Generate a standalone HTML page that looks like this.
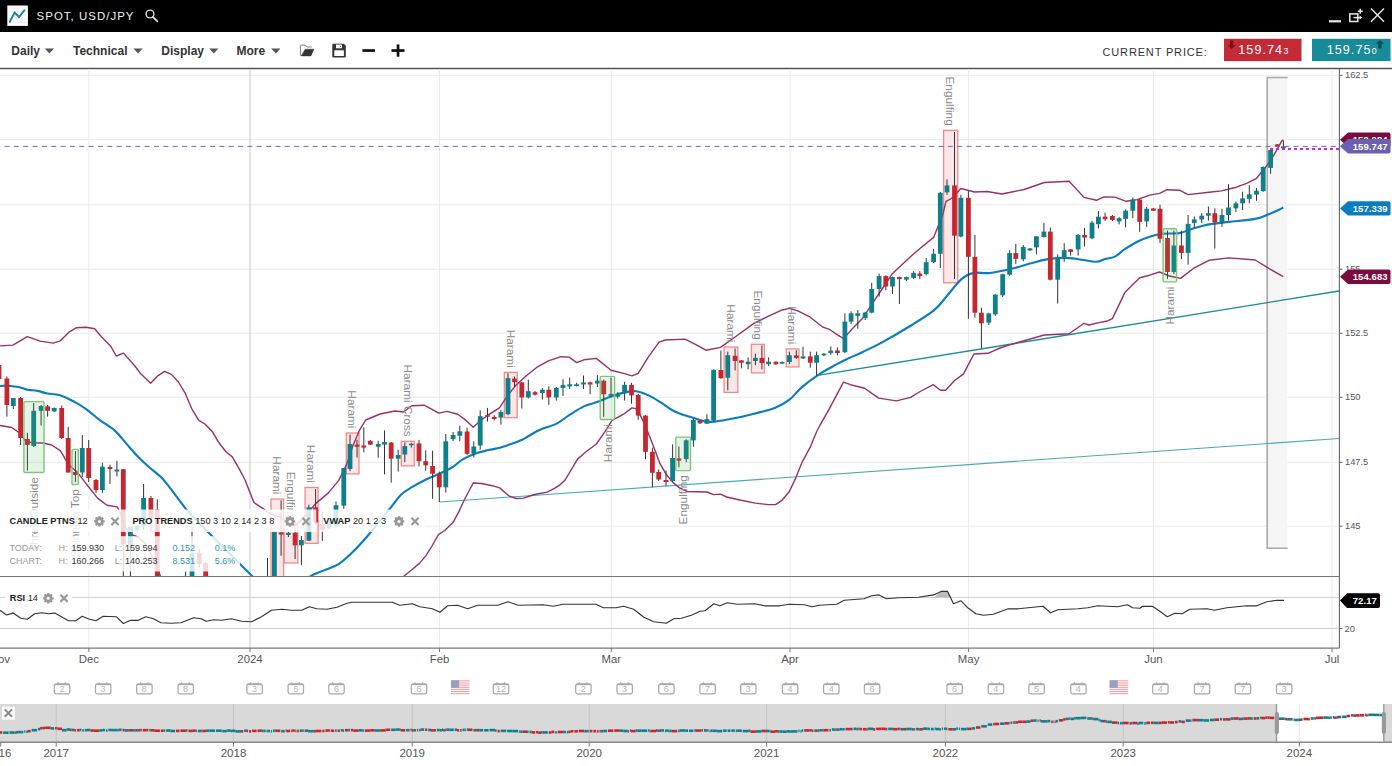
<!DOCTYPE html>
<html><head><meta charset="utf-8"><title>SPOT, USD/JPY</title>
<style>
html,body{margin:0;padding:0;background:#fff;}
body{width:1392px;height:766px;overflow:hidden;position:relative;font-family:"Liberation Sans",sans-serif;}
svg{position:absolute;left:0;top:0;}
text{font-family:"Liberation Sans",sans-serif;}
</style></head><body>
<svg width="1392" height="766" viewBox="0 0 1392 766">
<defs>
<clipPath id="cm"><rect x="0" y="69" width="1339" height="507"/></clipPath>
<clipPath id="cr"><rect x="0" y="577" width="1339" height="71"/></clipPath>
</defs>

<rect x="0" y="0" width="1392" height="32" fill="#000"/>
<rect x="7.3" y="5.5" width="20.6" height="20.4" fill="#fff"/>
<line x1="9" y1="8.0" x2="26" y2="8.0" stroke="#e4e4e4" stroke-width="0.8"/>
<line x1="9" y1="11.3" x2="26" y2="11.3" stroke="#e4e4e4" stroke-width="0.8"/>
<line x1="9" y1="15.0" x2="26" y2="15.0" stroke="#e4e4e4" stroke-width="0.8"/>
<line x1="9" y1="19.0" x2="26" y2="19.0" stroke="#e4e4e4" stroke-width="0.8"/>
<line x1="9" y1="22.6" x2="26" y2="22.6" stroke="#e4e4e4" stroke-width="0.8"/>
<polyline points="9.85,21.7 14.6,12.6 19,17 24.5,10.2" fill="none" stroke="#178896" stroke-width="1.9" stroke-linecap="round"/>
<text x="36.6" y="20.1" font-size="11.4" fill="#f0f0f0" letter-spacing="1.05">SPOT, USD/JPY</text>
<circle cx="150" cy="14" r="3.9" fill="none" stroke="#ddd" stroke-width="1.4"/><line x1="152.8" y1="16.8" x2="157.4" y2="21.4" stroke="#ddd" stroke-width="1.7" stroke-linecap="round"/>
<rect x="1329" y="20.2" width="12" height="2.2" fill="#e8e8e8"/>
<rect x="1349.8" y="13.9" width="8" height="7.6" fill="none" stroke="#e8e8e8" stroke-width="1.5"/>
<path d="M1353.5,17.6H1360.5" stroke="#e8e8e8" stroke-width="1.4"/><path d="M1359.6,15.6L1362.3,17.6L1359.6,19.6Z" fill="#e8e8e8"/>
<path d="M1360.3,8.7V13.7M1357.8,11.2H1362.8" stroke="#e8e8e8" stroke-width="1.5"/>
<path d="M1371,8.5L1384,21.8M1371,21.8L1384,8.5" stroke="#e8e8e8" stroke-width="1.4"/>
<line x1="0" y1="68.5" x2="1392" y2="68.5" stroke="#555" stroke-width="1.3"/>
<text x="11.3" y="55" font-size="12" font-weight="bold" fill="#333">Daily</text>
<path d="M44.8,48.6h9.2l-4.6,5z" fill="#555"/>
<text x="73.0" y="55" font-size="12" font-weight="bold" fill="#333">Technical</text>
<path d="M133.5,48.6h9.2l-4.6,5z" fill="#555"/>
<text x="161.3" y="55" font-size="12" font-weight="bold" fill="#333">Display</text>
<path d="M209.2,48.6h9.2l-4.6,5z" fill="#555"/>
<text x="236.5" y="55" font-size="12" font-weight="bold" fill="#333">More</text>
<path d="M271.2,48.6h9.2l-4.6,5z" fill="#555"/>
<path d="M301.6,55.6 H300.9 Q300.4,55.6 300.4,55 V45.7 Q300.4,45.1 301,45.1 H305.4 L307.1,47 H311.6" fill="none" stroke="#808080" stroke-width="1"/><path d="M305.2,49.2 H313.9 L310.9,55.9 H301.3 Z" fill="#333" stroke="#333" stroke-width="0.5" stroke-linejoin="round"/>
<path d="M333.6,43.7 H343.8 L345.8,45.7 V56.2 Q345.8,57.5 344.5,57.5 H333.6 Q332.3,57.5 332.3,56.2 V45 Q332.3,43.7 333.6,43.7 Z" fill="#333"/><rect x="336" y="44.7" width="6" height="3.6" fill="#fff"/><rect x="340" y="45.9" width="0.9" height="0.9" fill="#333"/><rect x="334.3" y="50.3" width="9.6" height="5.8" rx="0.6" fill="#fff"/><rect x="336" y="43.7" width="6" height="1" fill="#999"/>
<rect x="362.4" y="49.2" width="12.6" height="2.7" fill="#111"/>
<rect x="391.5" y="49.2" width="13" height="2.7" fill="#111"/><rect x="396.7" y="44.4" width="2.7" height="12.3" fill="#111"/>
<text x="1102.5" y="55.7" font-size="11" fill="#333" letter-spacing="0.85">CURRENT PRICE:</text>
<rect x="1224" y="38.8" width="77.5" height="22.3" fill="#c42b37"/>
<path d="M1230,40.5h3.3v4.8h2.5l-4.15,3.6l-4.15,-3.6h2.5z" fill="#7a0f18"/>
<text x="1238.3" y="53.9" font-size="12.6" fill="#fff" letter-spacing="1.05">159.74<tspan font-size="8.8" dx="0.3">3</tspan></text>
<rect x="1312" y="38.8" width="78.5" height="22.3" fill="#178b97"/>
<path d="M1381.5,48.5h-3.3v-4.8h-2.5l4.15,-3.6l4.15,3.6h-2.5z" fill="#0a4f57"/>
<text x="1326.7" y="53.9" font-size="12.6" fill="#fff" letter-spacing="1.05">159.75<tspan font-size="8.8" dx="0.3">0</tspan></text>
<line x1="0" y1="75.3" x2="1339" y2="75.3" stroke="#ebebeb" stroke-width="1"/>
<line x1="0" y1="139.7" x2="1339" y2="139.7" stroke="#ebebeb" stroke-width="1"/>
<line x1="0" y1="204.8" x2="1339" y2="204.8" stroke="#ebebeb" stroke-width="1"/>
<line x1="0" y1="269.2" x2="1339" y2="269.2" stroke="#ebebeb" stroke-width="1"/>
<line x1="0" y1="333.3" x2="1339" y2="333.3" stroke="#ebebeb" stroke-width="1"/>
<line x1="0" y1="397.3" x2="1339" y2="397.3" stroke="#ebebeb" stroke-width="1"/>
<line x1="0" y1="462.4" x2="1339" y2="462.4" stroke="#ebebeb" stroke-width="1"/>
<line x1="0" y1="526.2" x2="1339" y2="526.2" stroke="#ebebeb" stroke-width="1"/>
<line x1="88.8" y1="69" x2="88.8" y2="648" stroke="#ebebeb" stroke-width="1"/>
<line x1="250.0" y1="69" x2="250.0" y2="648" stroke="#c8c8c8" stroke-width="1"/>
<line x1="439.5" y1="69" x2="439.5" y2="648" stroke="#ebebeb" stroke-width="1"/>
<line x1="611.3" y1="69" x2="611.3" y2="648" stroke="#ebebeb" stroke-width="1"/>
<line x1="790.0" y1="69" x2="790.0" y2="648" stroke="#ebebeb" stroke-width="1"/>
<line x1="968.6" y1="69" x2="968.6" y2="648" stroke="#ebebeb" stroke-width="1"/>
<line x1="1153.5" y1="69" x2="1153.5" y2="648" stroke="#ebebeb" stroke-width="1"/>
<line x1="1332.0" y1="69" x2="1332.0" y2="648" stroke="#ebebeb" stroke-width="1"/>
<g clip-path="url(#cm)">
<rect x="1267.2" y="77.5" width="20" height="471" fill="#f5f5f5"/>
<path d="M1287.7,77.5H1267.2V548.3H1287.7" fill="none" stroke="#a8a8a8" stroke-width="1.6"/>
<rect x="271.0" y="499.0" width="12.6" height="78.0" fill="#fde6e8" stroke="#f28a8a" stroke-width="1.3"/>
<rect x="284.2" y="525.5" width="13.6" height="37.5" fill="#fde6e8" stroke="#f28a8a" stroke-width="1.3"/>
<rect x="305.1" y="487.5" width="13.0" height="55.8" fill="#fde6e8" stroke="#f28a8a" stroke-width="1.3"/>
<rect x="346.3" y="433.0" width="12.7" height="40.9" fill="#fde6e8" stroke="#f28a8a" stroke-width="1.3"/>
<rect x="401.3" y="441.3" width="12.9" height="24.5" fill="#fde6e8" stroke="#f28a8a" stroke-width="1.3"/>
<rect x="504.3" y="372.4" width="12.9" height="45.3" fill="#fde6e8" stroke="#f28a8a" stroke-width="1.3"/>
<rect x="724.1" y="347.0" width="13.8" height="45.4" fill="#fde6e8" stroke="#f28a8a" stroke-width="1.3"/>
<rect x="751.4" y="344.3" width="13.0" height="28.6" fill="#fde6e8" stroke="#f28a8a" stroke-width="1.3"/>
<rect x="786.3" y="348.9" width="12.6" height="18.0" fill="#fde6e8" stroke="#f28a8a" stroke-width="1.3"/>
<rect x="943.6" y="130.3" width="14.1" height="152.5" fill="#fde6e8" stroke="#f28a8a" stroke-width="1.3"/>
<line x1="440" y1="502" x2="1339" y2="438.5" stroke="#4aa8b2" stroke-width="1.1"/>
<line x1="816" y1="375.6" x2="1339" y2="291" stroke="#1b8d98" stroke-width="1.4"/>
<polyline points="0.0,345.9 12.9,345.1 27.3,336.7 40.2,341.1 53.1,343.1 60.3,340.8 68.9,332.2 76.1,327.8 86.1,327.3 94.7,328.7 101.9,337.3 110.5,345.9 116.3,356.0 123.5,353.1 134.9,366.0 140.0,372.9 150.6,383.3 157.4,376.2 164.7,371.4 171.4,374.4 178.4,382.0 185.3,393.4 192.1,409.4 198.8,420.4 204.9,424.0 212.2,431.4 218.6,442.3 225.9,451.8 232.3,456.9 239.6,469.7 245.1,480.0 253.9,502.5 262.8,508.3 270.6,514.2 280.0,517.0 290.5,524.5 296.8,524.5 305.1,516.0 315.6,503.6 328.1,493.1 338.6,480.6 346.9,463.9 353.2,445.0 359.4,430.4 365.7,420.0 380.0,414.0 395.0,411.0 403.4,412.0 411.7,405.8 424.2,405.2 438.9,413.1 447.2,411.4 457.7,414.2 466.0,420.4 473.3,427.3 480.6,420.4 488.0,415.2 499.4,407.9 507.8,395.4 516.2,384.9 526.6,375.5 537.0,367.2 548.4,360.9 560.9,356.7 569.2,357.1 576.6,362.6 583.9,359.8 596.4,358.4 611.0,370.3 623.6,373.4 631.9,375.9 638.2,373.4 648.6,356.7 659.1,342.1 665.3,340.0 685.0,339.1 695.4,344.3 705.9,350.2 720.5,347.4 735.1,337.0 753.9,323.4 768.6,316.1 781.1,310.3 789.4,308.4 797.8,310.9 810.3,317.2 822.9,327.2 830.0,329.7 837.4,334.9 843.6,338.6 852.3,328.7 862.2,318.8 872.2,303.9 882.1,289.0 892.0,274.1 911.8,255.5 920.0,248.5 933.6,237.4 942.8,214.6 946.0,201.4 951.5,198.5 960.9,188.5 974.5,192.0 987.0,191.5 1001.8,194.0 1024.1,189.5 1044.3,182.5 1069.1,181.2 1084.0,197.4 1096.4,200.3 1103.9,196.9 1114.9,197.1 1126.1,201.3 1137.2,199.6 1149.6,195.1 1159.5,193.4 1167.0,189.7 1179.4,190.2 1188.1,194.6 1209.1,192.2 1221.5,190.9 1236.4,187.2 1246.7,183.4 1256.1,178.7 1266.7,165.8 1273.8,155.2 1282.0,140.6 1283.4,140.0" fill="none" stroke="#97306b" stroke-width="1.4" stroke-linejoin="round"/>
<polyline points="0.0,425.5 11.8,427.5 20.1,433.5 25.5,441.0 31.6,442.7 43.1,443.0 51.7,445.0 60.3,450.7 68.9,465.1 77.5,472.3 86.1,483.7 97.6,498.1 106.9,505.2 117.2,506.9 120.7,513.8 124.1,525.9 131.0,534.5 137.9,537.0 144.8,543.1 151.7,555.2 156.9,567.2 162.0,580.0" fill="none" stroke="#97306b" stroke-width="1.4" stroke-linejoin="round"/>
<polyline points="400.0,580.0 403.7,576.2 411.9,569.8 419.3,563.4 425.6,556.1 432.0,546.0 438.4,534.7 444.8,530.5 453.1,522.3 458.6,512.2 465.0,498.5 473.2,483.0 481.4,483.5 492.4,485.7 499.7,487.9 508.8,495.8 516.1,498.5 523.5,498.1 534.4,494.5 547.2,492.1 554.5,488.4 560.0,484.8 565.1,480.0 577.6,459.1 586.0,451.8 596.4,444.0 604.8,431.9 612.1,420.4 623.6,414.2 631.9,407.9 637.1,408.9 644.4,423.6 652.8,444.4 660.0,463.7 666.5,474.8 673.1,482.6 679.6,487.9 687.4,491.5 707.0,492.0 713.5,494.6 720.7,494.1 726.6,497.0 740.9,500.3 755.3,503.1 768.3,504.6 775.5,504.6 782.0,500.3 789.2,491.8 795.7,478.1 802.3,461.8 810.1,447.4 816.6,431.7 820.0,425.2 829.4,408.7 843.5,382.2 850.5,384.7 864.6,388.2 878.7,398.1 896.4,400.9 910.5,397.4 921.0,391.0 933.4,384.7 940.4,390.3 945.7,390.3 954.5,380.5 963.4,374.1 973.9,354.0 988.0,353.3 1000.0,348.0 1009.6,344.9 1044.3,335.0 1069.1,333.7 1084.0,323.3 1089.0,325.0 1098.9,322.6 1106.3,321.3 1112.4,318.6 1124.8,292.6 1139.7,277.7 1149.6,275.2 1159.5,272.0 1169.5,276.0 1180.6,278.4 1194.3,267.8 1209.1,260.3 1229.0,257.9 1255.2,260.0 1268.8,268.4 1283.2,276.6" fill="none" stroke="#97306b" stroke-width="1.4" stroke-linejoin="round"/>
<path d="M0.0,386.0 C0.9,385.9 3.7,385.6 5.5,385.6 C7.3,385.6 8.6,385.7 11.0,386.0 C13.4,386.3 17.4,386.8 20.1,387.4 C22.8,388.0 25.3,389.2 27.4,389.7 C29.5,390.2 31.1,390.0 32.9,390.2 C34.7,390.4 36.0,390.6 38.4,391.1 C40.8,391.7 43.9,392.8 47.5,393.5 C51.1,394.2 55.5,393.8 60.0,395.2 C64.5,396.6 70.2,399.6 74.6,401.9 C78.9,404.2 81.8,406.0 86.1,409.1 C90.4,412.2 95.7,417.0 100.5,420.6 C105.3,424.2 110.5,426.8 114.8,430.6 C119.1,434.4 122.5,439.3 126.3,443.6 C130.1,447.9 134.0,452.6 137.8,456.5 C141.6,460.4 145.3,463.8 149.2,467.2 C153.0,470.6 157.3,473.4 160.9,477.0 C164.5,480.6 166.6,483.6 170.7,488.8 C174.8,494.0 180.8,502.8 185.4,508.3 C190.0,513.8 193.7,517.4 198.1,522.0 C202.5,526.6 206.9,530.9 211.8,535.8 C216.7,540.7 221.6,545.5 227.5,551.4 C233.4,557.3 242.8,566.8 247.1,571.0 C251.3,575.2 250.8,574.7 253.0,576.9 C255.2,579.1 252.2,582.8 260.0,584.0 C267.8,585.2 291.4,585.4 300.0,584.0 C308.6,582.6 307.4,577.9 311.4,575.6 C315.4,573.3 319.4,572.3 323.9,570.4 C328.4,568.5 333.7,567.2 338.6,564.1 C343.5,561.0 347.6,557.2 353.2,551.6 C358.8,546.0 366.1,537.7 372.0,530.7 C377.9,523.7 385.7,513.5 388.7,509.8 C391.7,506.1 387.9,511.1 390.0,508.6 C392.1,506.1 397.4,498.4 401.0,494.8 C404.6,491.2 407.6,489.8 411.9,487.2 C416.2,484.6 421.4,481.8 426.6,479.3 C431.8,476.8 438.7,474.0 443.0,472.0 C447.3,470.0 448.8,469.5 452.2,467.4 C455.6,465.3 458.8,461.6 463.1,459.2 C467.4,456.8 473.5,454.3 477.8,452.8 C482.1,451.3 485.1,451.0 488.7,450.1 C492.3,449.2 496.6,448.5 499.7,447.7 C502.8,446.9 503.4,446.8 507.0,445.5 C510.6,444.2 518.0,441.6 521.6,440.0 C525.2,438.4 525.6,437.7 528.7,436.0 C531.8,434.3 535.3,431.9 540.0,429.8 C544.7,427.7 551.8,426.0 556.7,423.6 C561.6,421.2 564.7,418.1 569.2,415.2 C573.7,412.3 579.0,408.7 583.9,406.4 C588.8,404.1 594.0,403.3 598.5,401.6 C603.0,399.9 606.8,397.9 611.0,396.4 C615.2,394.9 619.4,393.5 623.6,392.6 C627.8,391.7 631.9,390.7 636.1,391.2 C640.3,391.7 644.4,393.5 648.6,395.4 C652.8,397.3 657.0,400.1 661.2,402.7 C665.4,405.3 669.7,408.9 673.7,411.0 C677.7,413.1 681.4,414.1 685.0,415.3 C688.6,416.6 691.9,417.4 695.4,418.5 C698.9,419.6 702.8,421.1 705.9,421.6 C709.0,422.1 709.7,422.1 714.2,421.6 C718.7,421.1 726.0,419.9 733.0,418.5 C740.0,417.1 749.0,414.9 756.0,413.2 C763.0,411.4 769.2,410.2 774.8,408.0 C780.4,405.8 784.9,403.2 789.4,399.7 C793.9,396.2 797.1,391.3 802.0,387.1 C806.9,382.9 813.2,378.2 818.7,374.6 C824.2,371.0 830.6,367.6 835.0,365.2 C839.4,362.8 840.4,362.2 844.9,360.0 C849.4,357.8 856.0,355.1 862.2,352.2 C868.4,349.2 873.8,346.8 882.1,342.3 C890.4,337.8 903.1,330.4 911.8,325.0 C920.5,319.6 928.3,314.9 934.1,310.1 C939.9,305.4 942.0,301.7 946.5,296.5 C951.0,291.3 956.9,283.0 961.4,279.1 C965.9,275.2 969.1,273.9 973.8,272.9 C978.5,271.9 983.0,273.8 989.8,273.0 C996.6,272.2 1007.6,269.6 1014.6,268.0 C1021.6,266.4 1026.2,264.6 1032.0,263.1 C1037.8,261.6 1043.1,259.7 1049.3,258.9 C1055.5,258.1 1063.7,258.0 1069.1,258.1 C1074.5,258.2 1077.0,259.2 1081.5,259.8 C1086.0,260.4 1092.5,261.9 1096.4,261.8 C1100.3,261.7 1101.9,260.0 1105.0,259.1 C1108.1,258.2 1111.6,258.2 1114.9,256.6 C1118.2,255.0 1121.1,251.7 1124.8,249.2 C1128.5,246.7 1133.1,243.8 1137.2,241.7 C1141.3,239.6 1145.5,238.1 1149.6,236.8 C1153.7,235.5 1157.0,234.4 1162.0,233.8 C1167.0,233.2 1174.4,233.9 1179.4,233.1 C1184.4,232.3 1186.8,230.3 1191.8,228.9 C1196.8,227.5 1202.9,225.6 1209.1,224.4 C1215.3,223.2 1221.3,222.8 1229.0,221.9 C1236.7,221.0 1248.5,220.1 1255.0,218.9 C1261.5,217.7 1264.1,216.0 1268.0,214.5 C1271.9,213.0 1276.0,211.2 1278.5,210.0 C1281.0,208.8 1282.4,207.9 1283.2,207.5" fill="none" stroke="#0a7cc1" stroke-width="2.1" stroke-linejoin="round"/>
<line x1="-1.0" y1="363.0" x2="-1.0" y2="381.0" stroke="#333" stroke-width="1"/>
<rect x="-3.4" y="365.0" width="4.8" height="14.0" fill="#c6262f"/>
<line x1="6.9" y1="376.5" x2="6.9" y2="416.7" stroke="#333" stroke-width="1"/>
<rect x="4.5" y="378.5" width="4.8" height="26.5" fill="#c6262f"/>
<line x1="13.3" y1="398.0" x2="13.3" y2="409.0" stroke="#333" stroke-width="1"/>
<rect x="10.9" y="398.0" width="4.8" height="8.0" fill="#0f7f8c"/>
<line x1="20.6" y1="397.0" x2="20.6" y2="445.0" stroke="#333" stroke-width="1"/>
<rect x="18.2" y="398.0" width="4.8" height="40.0" fill="#c6262f"/>
<line x1="27.4" y1="433.0" x2="27.4" y2="470.5" stroke="#333" stroke-width="1"/>
<rect x="25.0" y="439.0" width="4.8" height="6.0" fill="#c6262f"/>
<line x1="33.7" y1="403.0" x2="33.7" y2="447.0" stroke="#333" stroke-width="1"/>
<rect x="31.3" y="410.8" width="4.8" height="35.2" fill="#0f7f8c"/>
<line x1="41.1" y1="405.0" x2="41.1" y2="425.5" stroke="#333" stroke-width="1"/>
<rect x="38.7" y="406.0" width="4.8" height="4.8" fill="#0f7f8c"/>
<line x1="47.6" y1="405.0" x2="47.6" y2="416.7" stroke="#333" stroke-width="1"/>
<rect x="45.2" y="406.3" width="4.8" height="4.5" fill="#c6262f"/>
<line x1="54.2" y1="407.5" x2="54.2" y2="412.0" stroke="#333" stroke-width="1"/>
<rect x="51.8" y="408.0" width="4.8" height="3.4" fill="#0f7f8c"/>
<line x1="61.7" y1="405.5" x2="61.7" y2="438.8" stroke="#333" stroke-width="1"/>
<rect x="59.3" y="408.0" width="4.8" height="30.0" fill="#c6262f"/>
<line x1="68.2" y1="427.0" x2="68.2" y2="472.5" stroke="#333" stroke-width="1"/>
<rect x="65.8" y="438.0" width="4.8" height="34.5" fill="#c6262f"/>
<line x1="75.4" y1="451.0" x2="75.4" y2="482.0" stroke="#333" stroke-width="1"/>
<rect x="73.0" y="472.0" width="4.8" height="3.0" fill="#c6262f"/>
<line x1="82.3" y1="435.0" x2="82.3" y2="477.0" stroke="#333" stroke-width="1"/>
<rect x="79.9" y="448.0" width="4.8" height="24.5" fill="#0f7f8c"/>
<line x1="88.7" y1="440.0" x2="88.7" y2="482.0" stroke="#333" stroke-width="1"/>
<rect x="86.3" y="448.0" width="4.8" height="30.0" fill="#c6262f"/>
<line x1="96.0" y1="479.0" x2="96.0" y2="493.0" stroke="#333" stroke-width="1"/>
<rect x="93.6" y="480.0" width="4.8" height="10.0" fill="#c6262f"/>
<line x1="102.4" y1="462.7" x2="102.4" y2="493.0" stroke="#333" stroke-width="1"/>
<rect x="100.0" y="466.6" width="4.8" height="23.4" fill="#0f7f8c"/>
<line x1="110.0" y1="464.7" x2="110.0" y2="484.0" stroke="#333" stroke-width="1"/>
<rect x="107.6" y="467.0" width="4.8" height="2.0" fill="#c6262f"/>
<line x1="116.9" y1="460.8" x2="116.9" y2="476.4" stroke="#333" stroke-width="1"/>
<rect x="114.5" y="469.6" width="4.8" height="1.9" fill="#0f7f8c"/>
<line x1="123.3" y1="469.0" x2="123.3" y2="600.0" stroke="#333" stroke-width="1"/>
<rect x="120.9" y="469.2" width="4.8" height="75.3" fill="#c6262f"/>
<line x1="130.4" y1="526.8" x2="130.4" y2="600.0" stroke="#333" stroke-width="1"/>
<rect x="128.0" y="526.8" width="4.8" height="18.2" fill="#0f7f8c"/>
<line x1="137.2" y1="525.0" x2="137.2" y2="532.0" stroke="#333" stroke-width="1"/>
<rect x="134.8" y="525.9" width="4.8" height="4.5" fill="#0f7f8c"/>
<line x1="143.6" y1="484.0" x2="143.6" y2="530.0" stroke="#333" stroke-width="1"/>
<rect x="141.2" y="498.0" width="4.8" height="28.0" fill="#0f7f8c"/>
<line x1="150.9" y1="496.0" x2="150.9" y2="532.0" stroke="#333" stroke-width="1"/>
<rect x="148.5" y="498.0" width="4.8" height="20.6" fill="#c6262f"/>
<line x1="157.3" y1="499.4" x2="157.3" y2="600.0" stroke="#333" stroke-width="1"/>
<rect x="154.9" y="509.4" width="4.8" height="90.6" fill="#c6262f"/>
<line x1="185.6" y1="571.5" x2="185.6" y2="620.0" stroke="#333" stroke-width="1"/>
<rect x="183.2" y="580.0" width="4.8" height="20.0" fill="#0f7f8c"/>
<line x1="192.0" y1="526.8" x2="192.0" y2="620.0" stroke="#333" stroke-width="1"/>
<rect x="189.6" y="553.0" width="4.8" height="47.0" fill="#0f7f8c"/>
<line x1="199.3" y1="548.7" x2="199.3" y2="568.0" stroke="#333" stroke-width="1"/>
<rect x="196.9" y="553.0" width="4.8" height="11.0" fill="#c6262f"/>
<line x1="205.7" y1="562.0" x2="205.7" y2="620.0" stroke="#333" stroke-width="1"/>
<rect x="203.3" y="563.3" width="4.8" height="36.7" fill="#c6262f"/>
<line x1="267.5" y1="557.9" x2="267.5" y2="620.0" stroke="#333" stroke-width="1"/>
<rect x="265.1" y="580.0" width="4.8" height="20.0" fill="#0f7f8c"/>
<line x1="274.4" y1="531.0" x2="274.4" y2="620.0" stroke="#333" stroke-width="1"/>
<rect x="272.0" y="531.8" width="4.8" height="68.2" fill="#0f7f8c"/>
<line x1="281.1" y1="500.4" x2="281.1" y2="555.8" stroke="#333" stroke-width="1"/>
<rect x="278.7" y="532.4" width="4.8" height="2.1" fill="#c6262f"/>
<line x1="288.4" y1="531.8" x2="288.4" y2="537.0" stroke="#333" stroke-width="1"/>
<rect x="286.0" y="532.8" width="4.8" height="2.2" fill="#0f7f8c"/>
<line x1="295.1" y1="531.8" x2="295.1" y2="559.0" stroke="#333" stroke-width="1"/>
<rect x="292.7" y="532.8" width="4.8" height="12.5" fill="#c6262f"/>
<line x1="301.4" y1="536.0" x2="301.4" y2="565.2" stroke="#333" stroke-width="1"/>
<rect x="299.0" y="540.0" width="4.8" height="5.3" fill="#0f7f8c"/>
<line x1="308.9" y1="504.6" x2="308.9" y2="541.0" stroke="#333" stroke-width="1"/>
<rect x="306.5" y="507.3" width="4.8" height="33.4" fill="#0f7f8c"/>
<line x1="315.6" y1="489.0" x2="315.6" y2="524.0" stroke="#333" stroke-width="1"/>
<rect x="313.2" y="507.3" width="4.8" height="15.1" fill="#c6262f"/>
<line x1="322.3" y1="512.0" x2="322.3" y2="541.0" stroke="#333" stroke-width="1"/>
<rect x="319.9" y="524.0" width="4.8" height="5.7" fill="#c6262f"/>
<line x1="329.2" y1="521.0" x2="329.2" y2="529.0" stroke="#333" stroke-width="1"/>
<rect x="326.8" y="522.4" width="4.8" height="5.2" fill="#0f7f8c"/>
<line x1="336.0" y1="501.5" x2="336.0" y2="527.0" stroke="#333" stroke-width="1"/>
<rect x="333.6" y="505.2" width="4.8" height="20.6" fill="#0f7f8c"/>
<line x1="343.8" y1="468.0" x2="343.8" y2="508.8" stroke="#333" stroke-width="1"/>
<rect x="341.4" y="468.0" width="4.8" height="37.6" fill="#0f7f8c"/>
<line x1="350.0" y1="434.6" x2="350.0" y2="471.2" stroke="#333" stroke-width="1"/>
<rect x="347.6" y="444.0" width="4.8" height="25.0" fill="#0f7f8c"/>
<line x1="357.0" y1="439.8" x2="357.0" y2="457.6" stroke="#333" stroke-width="1"/>
<rect x="354.6" y="444.6" width="4.8" height="2.1" fill="#c6262f"/>
<line x1="363.8" y1="427.3" x2="363.8" y2="452.4" stroke="#333" stroke-width="1"/>
<rect x="361.4" y="445.5" width="4.8" height="2.1" fill="#c6262f"/>
<line x1="370.3" y1="440.0" x2="370.3" y2="445.0" stroke="#333" stroke-width="1"/>
<rect x="367.9" y="440.9" width="4.8" height="3.7" fill="#c6262f"/>
<line x1="378.2" y1="440.9" x2="378.2" y2="457.6" stroke="#333" stroke-width="1"/>
<rect x="375.8" y="444.0" width="4.8" height="2.7" fill="#0f7f8c"/>
<line x1="384.5" y1="430.4" x2="384.5" y2="474.3" stroke="#333" stroke-width="1"/>
<rect x="382.1" y="442.0" width="4.8" height="2.6" fill="#0f7f8c"/>
<line x1="391.2" y1="442.0" x2="391.2" y2="482.7" stroke="#333" stroke-width="1"/>
<rect x="388.8" y="442.6" width="4.8" height="16.0" fill="#c6262f"/>
<line x1="398.2" y1="449.7" x2="398.2" y2="471.6" stroke="#333" stroke-width="1"/>
<rect x="395.8" y="455.0" width="4.8" height="3.7" fill="#0f7f8c"/>
<line x1="404.8" y1="442.4" x2="404.8" y2="462.2" stroke="#333" stroke-width="1"/>
<rect x="402.4" y="446.1" width="4.8" height="8.4" fill="#0f7f8c"/>
<line x1="411.3" y1="442.8" x2="411.3" y2="447.6" stroke="#333" stroke-width="1"/>
<rect x="408.9" y="443.6" width="4.8" height="1.6" fill="#0f7f8c"/>
<line x1="419.0" y1="439.9" x2="419.0" y2="466.4" stroke="#333" stroke-width="1"/>
<rect x="416.6" y="443.4" width="4.8" height="17.8" fill="#c6262f"/>
<line x1="425.7" y1="450.3" x2="425.7" y2="470.6" stroke="#333" stroke-width="1"/>
<rect x="423.3" y="461.2" width="4.8" height="4.1" fill="#c6262f"/>
<line x1="432.6" y1="450.7" x2="432.6" y2="498.8" stroke="#333" stroke-width="1"/>
<rect x="430.2" y="466.0" width="4.8" height="7.7" fill="#c6262f"/>
<line x1="439.3" y1="471.6" x2="439.3" y2="502.0" stroke="#333" stroke-width="1"/>
<rect x="436.9" y="473.7" width="4.8" height="13.6" fill="#c6262f"/>
<line x1="445.8" y1="434.0" x2="445.8" y2="492.5" stroke="#333" stroke-width="1"/>
<rect x="443.4" y="441.3" width="4.8" height="46.0" fill="#0f7f8c"/>
<line x1="453.1" y1="432.0" x2="453.1" y2="441.0" stroke="#333" stroke-width="1"/>
<rect x="450.7" y="435.0" width="4.8" height="4.2" fill="#0f7f8c"/>
<line x1="459.8" y1="425.6" x2="459.8" y2="441.3" stroke="#333" stroke-width="1"/>
<rect x="457.4" y="431.3" width="4.8" height="4.4" fill="#0f7f8c"/>
<line x1="467.1" y1="427.7" x2="467.1" y2="454.9" stroke="#333" stroke-width="1"/>
<rect x="464.7" y="431.5" width="4.8" height="22.3" fill="#c6262f"/>
<line x1="473.8" y1="441.3" x2="473.8" y2="457.4" stroke="#333" stroke-width="1"/>
<rect x="471.4" y="446.5" width="4.8" height="7.3" fill="#0f7f8c"/>
<line x1="480.2" y1="410.4" x2="480.2" y2="449.7" stroke="#333" stroke-width="1"/>
<rect x="477.8" y="416.2" width="4.8" height="29.3" fill="#0f7f8c"/>
<line x1="487.5" y1="407.9" x2="487.5" y2="421.5" stroke="#333" stroke-width="1"/>
<rect x="485.1" y="415.2" width="4.8" height="1.6" fill="#c6262f"/>
<line x1="494.2" y1="415.2" x2="494.2" y2="420.4" stroke="#333" stroke-width="1"/>
<rect x="491.8" y="416.9" width="4.8" height="2.1" fill="#c6262f"/>
<line x1="500.9" y1="410.0" x2="500.9" y2="424.6" stroke="#333" stroke-width="1"/>
<rect x="498.5" y="412.0" width="4.8" height="5.7" fill="#0f7f8c"/>
<line x1="508.0" y1="373.4" x2="508.0" y2="415.2" stroke="#333" stroke-width="1"/>
<rect x="505.6" y="378.2" width="4.8" height="36.0" fill="#0f7f8c"/>
<line x1="514.5" y1="376.6" x2="514.5" y2="387.0" stroke="#333" stroke-width="1"/>
<rect x="512.1" y="378.6" width="4.8" height="3.6" fill="#c6262f"/>
<line x1="521.8" y1="381.8" x2="521.8" y2="408.5" stroke="#333" stroke-width="1"/>
<rect x="519.4" y="382.4" width="4.8" height="15.0" fill="#c6262f"/>
<line x1="528.3" y1="379.7" x2="528.3" y2="398.5" stroke="#333" stroke-width="1"/>
<rect x="525.9" y="391.2" width="4.8" height="6.2" fill="#0f7f8c"/>
<line x1="535.0" y1="391.0" x2="535.0" y2="395.5" stroke="#333" stroke-width="1"/>
<rect x="532.6" y="392.2" width="4.8" height="2.5" fill="#c6262f"/>
<line x1="542.4" y1="388.0" x2="542.4" y2="399.5" stroke="#333" stroke-width="1"/>
<rect x="540.0" y="389.7" width="4.8" height="3.3" fill="#0f7f8c"/>
<line x1="548.8" y1="386.4" x2="548.8" y2="404.8" stroke="#333" stroke-width="1"/>
<rect x="546.4" y="389.7" width="4.8" height="7.7" fill="#c6262f"/>
<line x1="556.3" y1="387.0" x2="556.3" y2="400.6" stroke="#333" stroke-width="1"/>
<rect x="553.9" y="388.0" width="4.8" height="9.4" fill="#0f7f8c"/>
<line x1="563.0" y1="379.3" x2="563.0" y2="396.0" stroke="#333" stroke-width="1"/>
<rect x="560.6" y="384.9" width="4.8" height="3.1" fill="#0f7f8c"/>
<line x1="569.7" y1="377.6" x2="569.7" y2="389.1" stroke="#333" stroke-width="1"/>
<rect x="567.3" y="384.3" width="4.8" height="2.1" fill="#0f7f8c"/>
<line x1="576.6" y1="382.8" x2="576.6" y2="386.4" stroke="#333" stroke-width="1"/>
<rect x="574.2" y="384.3" width="4.8" height="1.7" fill="#0f7f8c"/>
<line x1="583.5" y1="375.5" x2="583.5" y2="389.1" stroke="#333" stroke-width="1"/>
<rect x="581.1" y="382.4" width="4.8" height="2.1" fill="#0f7f8c"/>
<line x1="590.1" y1="381.8" x2="590.1" y2="394.3" stroke="#333" stroke-width="1"/>
<rect x="587.7" y="382.4" width="4.8" height="2.1" fill="#c6262f"/>
<line x1="597.4" y1="375.1" x2="597.4" y2="387.0" stroke="#333" stroke-width="1"/>
<rect x="595.0" y="380.7" width="4.8" height="2.8" fill="#0f7f8c"/>
<line x1="603.7" y1="379.7" x2="603.7" y2="416.9" stroke="#333" stroke-width="1"/>
<rect x="601.3" y="380.7" width="4.8" height="13.6" fill="#c6262f"/>
<line x1="611.0" y1="377.6" x2="611.0" y2="397.4" stroke="#333" stroke-width="1"/>
<rect x="608.6" y="393.9" width="4.8" height="2.1" fill="#0f7f8c"/>
<line x1="617.7" y1="392.2" x2="617.7" y2="398.5" stroke="#333" stroke-width="1"/>
<rect x="615.3" y="393.9" width="4.8" height="2.9" fill="#0f7f8c"/>
<line x1="624.6" y1="381.8" x2="624.6" y2="400.6" stroke="#333" stroke-width="1"/>
<rect x="622.2" y="384.9" width="4.8" height="8.4" fill="#0f7f8c"/>
<line x1="631.5" y1="382.8" x2="631.5" y2="403.7" stroke="#333" stroke-width="1"/>
<rect x="629.1" y="384.9" width="4.8" height="10.5" fill="#c6262f"/>
<line x1="638.2" y1="393.9" x2="638.2" y2="419.8" stroke="#333" stroke-width="1"/>
<rect x="635.8" y="394.9" width="4.8" height="20.7" fill="#c6262f"/>
<line x1="645.5" y1="415.2" x2="645.5" y2="459.1" stroke="#333" stroke-width="1"/>
<rect x="643.1" y="415.6" width="4.8" height="36.2" fill="#c6262f"/>
<line x1="652.4" y1="447.6" x2="652.4" y2="487.3" stroke="#333" stroke-width="1"/>
<rect x="650.0" y="451.8" width="4.8" height="20.9" fill="#c6262f"/>
<line x1="658.7" y1="469.5" x2="658.7" y2="481.0" stroke="#333" stroke-width="1"/>
<rect x="656.3" y="472.0" width="4.8" height="7.5" fill="#c6262f"/>
<line x1="666.0" y1="470.6" x2="666.0" y2="486.2" stroke="#333" stroke-width="1"/>
<rect x="663.6" y="480.0" width="4.8" height="2.0" fill="#c6262f"/>
<line x1="672.6" y1="444.4" x2="672.6" y2="482.0" stroke="#333" stroke-width="1"/>
<rect x="670.2" y="458.0" width="4.8" height="23.0" fill="#0f7f8c"/>
<line x1="678.9" y1="446.5" x2="678.9" y2="467.4" stroke="#333" stroke-width="1"/>
<rect x="676.5" y="458.4" width="4.8" height="2.3" fill="#c6262f"/>
<line x1="686.2" y1="439.2" x2="686.2" y2="462.2" stroke="#333" stroke-width="1"/>
<rect x="683.8" y="440.3" width="4.8" height="18.8" fill="#0f7f8c"/>
<line x1="693.4" y1="418.5" x2="693.4" y2="446.7" stroke="#333" stroke-width="1"/>
<rect x="691.0" y="419.9" width="4.8" height="20.5" fill="#0f7f8c"/>
<line x1="700.0" y1="420.0" x2="700.0" y2="424.0" stroke="#333" stroke-width="1"/>
<rect x="697.6" y="420.6" width="4.8" height="2.7" fill="#c6262f"/>
<line x1="706.9" y1="414.3" x2="706.9" y2="424.1" stroke="#333" stroke-width="1"/>
<rect x="704.5" y="419.1" width="4.8" height="4.6" fill="#0f7f8c"/>
<line x1="713.6" y1="369.4" x2="713.6" y2="421.6" stroke="#333" stroke-width="1"/>
<rect x="711.2" y="369.8" width="4.8" height="50.8" fill="#0f7f8c"/>
<line x1="720.9" y1="350.6" x2="720.9" y2="378.8" stroke="#333" stroke-width="1"/>
<rect x="718.5" y="370.0" width="4.8" height="8.2" fill="#c6262f"/>
<line x1="727.8" y1="351.6" x2="727.8" y2="390.3" stroke="#333" stroke-width="1"/>
<rect x="725.4" y="355.2" width="4.8" height="22.5" fill="#0f7f8c"/>
<line x1="735.1" y1="348.5" x2="735.1" y2="370.4" stroke="#333" stroke-width="1"/>
<rect x="732.7" y="355.8" width="4.8" height="5.2" fill="#c6262f"/>
<line x1="741.4" y1="360.0" x2="741.4" y2="368.3" stroke="#333" stroke-width="1"/>
<rect x="739.0" y="360.4" width="4.8" height="2.3" fill="#c6262f"/>
<line x1="748.1" y1="357.3" x2="748.1" y2="369.4" stroke="#333" stroke-width="1"/>
<rect x="745.7" y="361.7" width="4.8" height="2.5" fill="#0f7f8c"/>
<line x1="755.4" y1="353.7" x2="755.4" y2="365.2" stroke="#333" stroke-width="1"/>
<rect x="753.0" y="357.9" width="4.8" height="3.1" fill="#0f7f8c"/>
<line x1="761.9" y1="345.4" x2="761.9" y2="369.4" stroke="#333" stroke-width="1"/>
<rect x="759.5" y="357.9" width="4.8" height="5.2" fill="#c6262f"/>
<line x1="768.6" y1="357.3" x2="768.6" y2="366.2" stroke="#333" stroke-width="1"/>
<rect x="766.2" y="361.7" width="4.8" height="2.5" fill="#0f7f8c"/>
<line x1="775.9" y1="361.5" x2="775.9" y2="365.0" stroke="#333" stroke-width="1"/>
<rect x="773.5" y="361.7" width="4.8" height="2.5" fill="#c6262f"/>
<line x1="782.1" y1="361.5" x2="782.1" y2="364.0" stroke="#333" stroke-width="1"/>
<rect x="779.7" y="362.0" width="4.8" height="1.6" fill="#0f7f8c"/>
<line x1="789.4" y1="351.6" x2="789.4" y2="364.2" stroke="#333" stroke-width="1"/>
<rect x="787.0" y="355.2" width="4.8" height="6.8" fill="#0f7f8c"/>
<line x1="796.3" y1="350.2" x2="796.3" y2="358.9" stroke="#333" stroke-width="1"/>
<rect x="793.9" y="355.4" width="4.8" height="2.5" fill="#c6262f"/>
<line x1="803.0" y1="346.8" x2="803.0" y2="358.9" stroke="#333" stroke-width="1"/>
<rect x="800.6" y="356.4" width="4.8" height="2.1" fill="#0f7f8c"/>
<line x1="810.3" y1="351.6" x2="810.3" y2="367.7" stroke="#333" stroke-width="1"/>
<rect x="807.9" y="356.4" width="4.8" height="6.3" fill="#c6262f"/>
<line x1="816.6" y1="351.6" x2="816.6" y2="375.6" stroke="#333" stroke-width="1"/>
<rect x="814.2" y="355.2" width="4.8" height="7.5" fill="#0f7f8c"/>
<line x1="823.9" y1="353.0" x2="823.9" y2="356.0" stroke="#333" stroke-width="1"/>
<rect x="821.5" y="353.7" width="4.8" height="1.6" fill="#0f7f8c"/>
<line x1="830.8" y1="346.4" x2="830.8" y2="354.8" stroke="#333" stroke-width="1"/>
<rect x="828.4" y="350.6" width="4.8" height="2.5" fill="#0f7f8c"/>
<line x1="837.4" y1="347.3" x2="837.4" y2="355.5" stroke="#333" stroke-width="1"/>
<rect x="835.0" y="350.5" width="4.8" height="2.5" fill="#c6262f"/>
<line x1="844.9" y1="313.3" x2="844.9" y2="353.0" stroke="#333" stroke-width="1"/>
<rect x="842.5" y="321.7" width="4.8" height="30.5" fill="#0f7f8c"/>
<line x1="851.1" y1="311.3" x2="851.1" y2="324.2" stroke="#333" stroke-width="1"/>
<rect x="848.7" y="313.3" width="4.8" height="8.4" fill="#0f7f8c"/>
<line x1="857.8" y1="310.1" x2="857.8" y2="328.7" stroke="#333" stroke-width="1"/>
<rect x="855.4" y="313.3" width="4.8" height="2.5" fill="#0f7f8c"/>
<line x1="865.2" y1="311.8" x2="865.2" y2="320.0" stroke="#333" stroke-width="1"/>
<rect x="862.8" y="312.6" width="4.8" height="5.4" fill="#0f7f8c"/>
<line x1="871.7" y1="282.8" x2="871.7" y2="313.3" stroke="#333" stroke-width="1"/>
<rect x="869.3" y="289.0" width="4.8" height="23.6" fill="#0f7f8c"/>
<line x1="879.1" y1="273.6" x2="879.1" y2="296.5" stroke="#333" stroke-width="1"/>
<rect x="876.7" y="276.1" width="4.8" height="12.9" fill="#0f7f8c"/>
<line x1="885.8" y1="275.4" x2="885.8" y2="290.3" stroke="#333" stroke-width="1"/>
<rect x="883.4" y="276.1" width="4.8" height="10.4" fill="#c6262f"/>
<line x1="892.5" y1="276.6" x2="892.5" y2="294.0" stroke="#333" stroke-width="1"/>
<rect x="890.1" y="277.1" width="4.8" height="9.4" fill="#0f7f8c"/>
<line x1="899.4" y1="276.6" x2="899.4" y2="303.9" stroke="#333" stroke-width="1"/>
<rect x="897.0" y="277.1" width="4.8" height="2.0" fill="#c6262f"/>
<line x1="906.4" y1="276.6" x2="906.4" y2="281.1" stroke="#333" stroke-width="1"/>
<rect x="904.0" y="277.1" width="4.8" height="2.5" fill="#0f7f8c"/>
<line x1="913.6" y1="271.2" x2="913.6" y2="279.1" stroke="#333" stroke-width="1"/>
<rect x="911.2" y="272.9" width="4.8" height="5.0" fill="#0f7f8c"/>
<line x1="919.8" y1="271.2" x2="919.8" y2="279.1" stroke="#333" stroke-width="1"/>
<rect x="917.4" y="273.6" width="4.8" height="2.5" fill="#c6262f"/>
<line x1="926.2" y1="258.0" x2="926.2" y2="275.4" stroke="#333" stroke-width="1"/>
<rect x="923.8" y="262.2" width="4.8" height="11.9" fill="#0f7f8c"/>
<line x1="933.6" y1="248.9" x2="933.6" y2="263.0" stroke="#333" stroke-width="1"/>
<rect x="931.2" y="253.8" width="4.8" height="8.4" fill="#0f7f8c"/>
<line x1="940.3" y1="191.8" x2="940.3" y2="268.0" stroke="#333" stroke-width="1"/>
<rect x="937.9" y="192.8" width="4.8" height="61.0" fill="#0f7f8c"/>
<line x1="947.0" y1="179.4" x2="947.0" y2="194.8" stroke="#333" stroke-width="1"/>
<rect x="944.6" y="185.4" width="4.8" height="6.9" fill="#0f7f8c"/>
<line x1="954.5" y1="132.0" x2="954.5" y2="279.1" stroke="#333" stroke-width="1"/>
<rect x="952.1" y="185.4" width="4.8" height="50.3" fill="#c6262f"/>
<line x1="960.9" y1="194.8" x2="960.9" y2="237.4" stroke="#333" stroke-width="1"/>
<rect x="958.5" y="197.8" width="4.8" height="38.7" fill="#0f7f8c"/>
<line x1="968.4" y1="191.1" x2="968.4" y2="318.8" stroke="#333" stroke-width="1"/>
<rect x="966.0" y="197.8" width="4.8" height="59.0" fill="#c6262f"/>
<line x1="974.9" y1="235.0" x2="974.9" y2="317.6" stroke="#333" stroke-width="1"/>
<rect x="972.5" y="256.9" width="4.8" height="55.8" fill="#c6262f"/>
<line x1="981.4" y1="307.7" x2="981.4" y2="348.6" stroke="#333" stroke-width="1"/>
<rect x="979.0" y="312.7" width="4.8" height="10.6" fill="#c6262f"/>
<line x1="988.8" y1="312.7" x2="988.8" y2="325.0" stroke="#333" stroke-width="1"/>
<rect x="986.4" y="313.4" width="4.8" height="9.2" fill="#0f7f8c"/>
<line x1="995.3" y1="294.1" x2="995.3" y2="315.9" stroke="#333" stroke-width="1"/>
<rect x="992.9" y="294.6" width="4.8" height="19.8" fill="#0f7f8c"/>
<line x1="1002.7" y1="273.7" x2="1002.7" y2="297.0" stroke="#333" stroke-width="1"/>
<rect x="1000.3" y="274.2" width="4.8" height="21.1" fill="#0f7f8c"/>
<line x1="1009.6" y1="250.2" x2="1009.6" y2="275.7" stroke="#333" stroke-width="1"/>
<rect x="1007.2" y="253.1" width="4.8" height="21.6" fill="#0f7f8c"/>
<line x1="1015.8" y1="244.0" x2="1015.8" y2="263.8" stroke="#333" stroke-width="1"/>
<rect x="1013.4" y="253.1" width="4.8" height="5.8" fill="#c6262f"/>
<line x1="1023.3" y1="245.0" x2="1023.3" y2="261.3" stroke="#333" stroke-width="1"/>
<rect x="1020.9" y="246.9" width="4.8" height="12.4" fill="#0f7f8c"/>
<line x1="1030.0" y1="248.0" x2="1030.0" y2="251.0" stroke="#333" stroke-width="1"/>
<rect x="1027.6" y="248.4" width="4.8" height="2.0" fill="#0f7f8c"/>
<line x1="1036.4" y1="236.3" x2="1036.4" y2="254.4" stroke="#333" stroke-width="1"/>
<rect x="1034.0" y="236.3" width="4.8" height="11.1" fill="#0f7f8c"/>
<line x1="1043.9" y1="222.9" x2="1043.9" y2="237.5" stroke="#333" stroke-width="1"/>
<rect x="1041.5" y="231.6" width="4.8" height="5.4" fill="#0f7f8c"/>
<line x1="1050.3" y1="227.6" x2="1050.3" y2="280.4" stroke="#333" stroke-width="1"/>
<rect x="1047.9" y="231.6" width="4.8" height="48.1" fill="#c6262f"/>
<line x1="1057.7" y1="254.4" x2="1057.7" y2="303.5" stroke="#333" stroke-width="1"/>
<rect x="1055.3" y="256.9" width="4.8" height="22.8" fill="#0f7f8c"/>
<line x1="1064.2" y1="243.2" x2="1064.2" y2="261.8" stroke="#333" stroke-width="1"/>
<rect x="1061.8" y="250.2" width="4.8" height="8.7" fill="#0f7f8c"/>
<line x1="1070.6" y1="248.9" x2="1070.6" y2="255.6" stroke="#333" stroke-width="1"/>
<rect x="1068.2" y="249.4" width="4.8" height="2.5" fill="#c6262f"/>
<line x1="1078.1" y1="234.0" x2="1078.1" y2="255.6" stroke="#333" stroke-width="1"/>
<rect x="1075.7" y="235.0" width="4.8" height="14.4" fill="#0f7f8c"/>
<line x1="1084.5" y1="227.9" x2="1084.5" y2="246.5" stroke="#333" stroke-width="1"/>
<rect x="1082.1" y="235.0" width="4.8" height="2.5" fill="#c6262f"/>
<line x1="1092.0" y1="220.9" x2="1092.0" y2="239.0" stroke="#333" stroke-width="1"/>
<rect x="1089.6" y="222.6" width="4.8" height="15.7" fill="#0f7f8c"/>
<line x1="1098.4" y1="211.0" x2="1098.4" y2="228.4" stroke="#333" stroke-width="1"/>
<rect x="1096.0" y="216.7" width="4.8" height="7.4" fill="#0f7f8c"/>
<line x1="1105.1" y1="212.7" x2="1105.1" y2="220.9" stroke="#333" stroke-width="1"/>
<rect x="1102.7" y="216.7" width="4.8" height="2.5" fill="#c6262f"/>
<line x1="1112.4" y1="215.0" x2="1112.4" y2="221.0" stroke="#333" stroke-width="1"/>
<rect x="1110.0" y="216.0" width="4.8" height="3.9" fill="#c6262f"/>
<line x1="1119.1" y1="216.9" x2="1119.1" y2="224.4" stroke="#333" stroke-width="1"/>
<rect x="1116.7" y="218.2" width="4.8" height="3.2" fill="#0f7f8c"/>
<line x1="1125.6" y1="209.5" x2="1125.6" y2="227.4" stroke="#333" stroke-width="1"/>
<rect x="1123.2" y="210.7" width="4.8" height="8.2" fill="#0f7f8c"/>
<line x1="1132.8" y1="197.6" x2="1132.8" y2="218.2" stroke="#333" stroke-width="1"/>
<rect x="1130.4" y="199.6" width="4.8" height="11.1" fill="#0f7f8c"/>
<line x1="1139.7" y1="199.1" x2="1139.7" y2="231.8" stroke="#333" stroke-width="1"/>
<rect x="1137.3" y="199.6" width="4.8" height="22.3" fill="#c6262f"/>
<line x1="1146.7" y1="207.0" x2="1146.7" y2="226.9" stroke="#333" stroke-width="1"/>
<rect x="1144.3" y="208.8" width="4.8" height="12.6" fill="#0f7f8c"/>
<line x1="1153.4" y1="208.0" x2="1153.4" y2="211.0" stroke="#333" stroke-width="1"/>
<rect x="1151.0" y="208.5" width="4.8" height="2.2" fill="#c6262f"/>
<line x1="1160.0" y1="204.6" x2="1160.0" y2="243.0" stroke="#333" stroke-width="1"/>
<rect x="1157.6" y="208.8" width="4.8" height="30.0" fill="#c6262f"/>
<line x1="1167.5" y1="230.6" x2="1167.5" y2="278.9" stroke="#333" stroke-width="1"/>
<rect x="1165.1" y="238.0" width="4.8" height="34.0" fill="#c6262f"/>
<line x1="1173.9" y1="230.6" x2="1173.9" y2="274.0" stroke="#333" stroke-width="1"/>
<rect x="1171.5" y="245.5" width="4.8" height="26.5" fill="#0f7f8c"/>
<line x1="1181.4" y1="230.6" x2="1181.4" y2="259.1" stroke="#333" stroke-width="1"/>
<rect x="1179.0" y="245.5" width="4.8" height="7.4" fill="#c6262f"/>
<line x1="1188.1" y1="215.0" x2="1188.1" y2="264.6" stroke="#333" stroke-width="1"/>
<rect x="1185.7" y="223.9" width="4.8" height="29.0" fill="#0f7f8c"/>
<line x1="1194.3" y1="216.5" x2="1194.3" y2="228.1" stroke="#333" stroke-width="1"/>
<rect x="1191.9" y="219.4" width="4.8" height="3.7" fill="#0f7f8c"/>
<line x1="1201.7" y1="213.2" x2="1201.7" y2="223.1" stroke="#333" stroke-width="1"/>
<rect x="1199.3" y="215.7" width="4.8" height="3.7" fill="#0f7f8c"/>
<line x1="1208.4" y1="206.5" x2="1208.4" y2="220.7" stroke="#333" stroke-width="1"/>
<rect x="1206.0" y="213.2" width="4.8" height="2.5" fill="#0f7f8c"/>
<line x1="1214.8" y1="208.3" x2="1214.8" y2="248.7" stroke="#333" stroke-width="1"/>
<rect x="1212.4" y="213.2" width="4.8" height="9.2" fill="#c6262f"/>
<line x1="1222.0" y1="208.8" x2="1222.0" y2="226.9" stroke="#333" stroke-width="1"/>
<rect x="1219.6" y="215.0" width="4.8" height="7.4" fill="#0f7f8c"/>
<line x1="1228.5" y1="184.2" x2="1228.5" y2="220.7" stroke="#333" stroke-width="1"/>
<rect x="1226.1" y="207.5" width="4.8" height="7.5" fill="#0f7f8c"/>
<line x1="1235.9" y1="201.6" x2="1235.9" y2="212.0" stroke="#333" stroke-width="1"/>
<rect x="1233.5" y="203.3" width="4.8" height="5.0" fill="#0f7f8c"/>
<line x1="1242.6" y1="191.7" x2="1242.6" y2="210.0" stroke="#333" stroke-width="1"/>
<rect x="1240.2" y="198.4" width="4.8" height="4.9" fill="#0f7f8c"/>
<line x1="1249.3" y1="185.2" x2="1249.3" y2="203.3" stroke="#333" stroke-width="1"/>
<rect x="1246.9" y="194.4" width="4.8" height="4.5" fill="#0f7f8c"/>
<line x1="1256.5" y1="187.9" x2="1256.5" y2="200.8" stroke="#333" stroke-width="1"/>
<rect x="1254.1" y="190.7" width="4.8" height="3.9" fill="#0f7f8c"/>
<line x1="1263.2" y1="166.4" x2="1263.2" y2="191.9" stroke="#333" stroke-width="1"/>
<rect x="1260.8" y="167.0" width="4.8" height="24.1" fill="#0f7f8c"/>
<line x1="1270.6" y1="149.4" x2="1270.6" y2="173.8" stroke="#333" stroke-width="1"/>
<rect x="1268.2" y="150.0" width="4.8" height="17.9" fill="#0f7f8c"/>
<line x1="1277.3" y1="144.0" x2="1277.3" y2="147.0" stroke="#333" stroke-width="1"/>
<rect x="1274.9" y="144.4" width="4.8" height="2.0" fill="#c6262f"/>
<line x1="1283.4" y1="140.6" x2="1283.4" y2="148.2" stroke="#333" stroke-width="1"/>
<rect x="1281.0" y="146.4" width="4.8" height="1.8" fill="#0f7f8c"/>
<rect x="23.9" y="401.6" width="20.1" height="70.9" rx="1.2" fill="#4caf50" fill-opacity="0.14" stroke="#7cc57a" stroke-width="1.4"/>
<rect x="72.0" y="449.4" width="6.3" height="35.2" rx="1.2" fill="#4caf50" fill-opacity="0.14" stroke="#7cc57a" stroke-width="1.4"/>
<rect x="600.2" y="376.4" width="14.4" height="43.1" rx="1.2" fill="#4caf50" fill-opacity="0.14" stroke="#7cc57a" stroke-width="1.4"/>
<rect x="675.8" y="437.1" width="14.7" height="33.5" rx="1.2" fill="#4caf50" fill-opacity="0.14" stroke="#7cc57a" stroke-width="1.4"/>
<rect x="1163.1" y="228.8" width="13.5" height="53.1" rx="1.2" fill="#4caf50" fill-opacity="0.14" stroke="#7cc57a" stroke-width="1.4"/>
<text transform="translate(34.0,477.1) rotate(-90)" text-anchor="end" dy="0.36em" font-size="11.8" fill="#8a8a8a">Three Outside</text>
<text transform="translate(75.2,489.2) rotate(-90)" text-anchor="end" dy="0.36em" font-size="11.8" fill="#8a8a8a">Spinning Top</text>
<text transform="translate(277.3,494.4) rotate(90)" text-anchor="end" dy="0.36em" font-size="11.8" fill="#8a8a8a">Harami</text>
<text transform="translate(291.0,520.9) rotate(90)" text-anchor="end" dy="0.36em" font-size="11.8" fill="#8a8a8a">Engulfing</text>
<text transform="translate(311.6,482.9) rotate(90)" text-anchor="end" dy="0.36em" font-size="11.8" fill="#8a8a8a">Harami</text>
<text transform="translate(352.6,428.4) rotate(90)" text-anchor="end" dy="0.36em" font-size="11.8" fill="#8a8a8a">Harami</text>
<text transform="translate(407.8,436.7) rotate(90)" text-anchor="end" dy="0.36em" font-size="11.8" fill="#8a8a8a">Harami Cross</text>
<text transform="translate(510.8,367.8) rotate(90)" text-anchor="end" dy="0.36em" font-size="11.8" fill="#8a8a8a">Harami</text>
<text transform="translate(607.4,424.1) rotate(-90)" text-anchor="end" dy="0.36em" font-size="11.8" fill="#8a8a8a">Harami</text>
<text transform="translate(683.1,475.2) rotate(-90)" text-anchor="end" dy="0.36em" font-size="11.8" fill="#8a8a8a">Engulfing</text>
<text transform="translate(731.0,342.4) rotate(90)" text-anchor="end" dy="0.36em" font-size="11.8" fill="#8a8a8a">Harami</text>
<text transform="translate(757.9,339.7) rotate(90)" text-anchor="end" dy="0.36em" font-size="11.8" fill="#8a8a8a">Engulfing</text>
<text transform="translate(792.6,344.3) rotate(90)" text-anchor="end" dy="0.36em" font-size="11.8" fill="#8a8a8a">Harami</text>
<text transform="translate(950.7,125.7) rotate(90)" text-anchor="end" dy="0.36em" font-size="11.8" fill="#8a8a8a">Engulfing</text>
<text transform="translate(1169.8,286.5) rotate(-90)" text-anchor="end" dy="0.36em" font-size="11.8" fill="#8a8a8a">Harami</text>
<line x1="0" y1="146.4" x2="1339" y2="146.4" stroke="#6a6ab8" stroke-width="1" stroke-dasharray="4.9,4.44" stroke-dashoffset="4.74"/>
<line x1="1270" y1="149" x2="1339" y2="149" stroke="#c828d8" stroke-width="2" stroke-dasharray="3,3"/>
</g>
<rect x="0" y="509.5" width="316.3" height="22.5" fill="#fff" fill-opacity="0.82"/>
<rect x="319.8" y="509.5" width="105.2" height="22.5" fill="#fff" fill-opacity="0.82"/>
<rect x="0" y="536.2" width="240" height="35.3" fill="#fff" fill-opacity="0.82"/>
<text x="9.5" y="524.2" font-size="9.2" fill="#222"><tspan font-weight="bold">CANDLE PTNS</tspan> 12</text>
<g transform="translate(99.4,521.4)"><circle r="3.2" fill="none" stroke="#999" stroke-width="2.2"/><g stroke="#999" stroke-width="2.2" stroke-linecap="butt"><line x1="0" y1="-5.3" x2="0" y2="5.3"/><line x1="-5.3" y1="0" x2="5.3" y2="0"/><line x1="-3.75" y1="-3.75" x2="3.75" y2="3.75"/><line x1="-3.75" y1="3.75" x2="3.75" y2="-3.75"/></g><circle r="1.5" fill="#fff"/></g><g transform="translate(115.0,521.4)"><path d="M-3.6,-3.6L3.6,3.6M-3.6,3.6L3.6,-3.6" stroke="#999" stroke-width="2.2"/></g>
<text x="132.4" y="524.2" font-size="9.2" fill="#222"><tspan font-weight="bold">PRO TRENDS</tspan> 150 3 10 2 14 2 3 8</text>
<g transform="translate(290.0,521.4)"><circle r="3.2" fill="none" stroke="#999" stroke-width="2.2"/><g stroke="#999" stroke-width="2.2" stroke-linecap="butt"><line x1="0" y1="-5.3" x2="0" y2="5.3"/><line x1="-5.3" y1="0" x2="5.3" y2="0"/><line x1="-3.75" y1="-3.75" x2="3.75" y2="3.75"/><line x1="-3.75" y1="3.75" x2="3.75" y2="-3.75"/></g><circle r="1.5" fill="#fff"/></g><g transform="translate(306.0,521.4)"><path d="M-3.6,-3.6L3.6,3.6M-3.6,3.6L3.6,-3.6" stroke="#999" stroke-width="2.2"/></g>
<text x="323.3" y="524.2" font-size="9.2" fill="#222"><tspan font-weight="bold">VWAP</tspan> 20 1 2 3</text>
<g transform="translate(399.0,521.4)"><circle r="3.2" fill="none" stroke="#999" stroke-width="2.2"/><g stroke="#999" stroke-width="2.2" stroke-linecap="butt"><line x1="0" y1="-5.3" x2="0" y2="5.3"/><line x1="-5.3" y1="0" x2="5.3" y2="0"/><line x1="-3.75" y1="-3.75" x2="3.75" y2="3.75"/><line x1="-3.75" y1="3.75" x2="3.75" y2="-3.75"/></g><circle r="1.5" fill="#fff"/></g><g transform="translate(415.0,521.4)"><path d="M-3.6,-3.6L3.6,3.6M-3.6,3.6L3.6,-3.6" stroke="#999" stroke-width="2.2"/></g>
<text x="9.5" y="551.3" font-size="9" fill="#999">TODAY:</text>
<text x="58.6" y="551.3" font-size="9" fill="#999">H:</text><text x="71.5" y="551.3" font-size="9" fill="#333">159.930</text>
<text x="114.7" y="551.3" font-size="9" fill="#999">L:</text><text x="125" y="551.3" font-size="9" fill="#333">159.594</text>
<text x="172.4" y="551.3" font-size="9" fill="#2a9aaa">0.152</text><text x="214.7" y="551.3" font-size="9" fill="#2a9aaa">0.1%</text>
<text x="9.5" y="564.2" font-size="9" fill="#999">CHART:</text>
<text x="58.6" y="564.2" font-size="9" fill="#999">H:</text><text x="71.5" y="564.2" font-size="9" fill="#333">160.266</text>
<text x="114.7" y="564.2" font-size="9" fill="#999">L:</text><text x="125" y="564.2" font-size="9" fill="#333">140.253</text>
<text x="172.4" y="564.2" font-size="9" fill="#2a9aaa">8.531</text><text x="214.7" y="564.2" font-size="9" fill="#2a9aaa">5.6%</text>
<line x1="1339.4" y1="69" x2="1339.4" y2="648" stroke="#666" stroke-width="1.1"/>
<line x1="1340" y1="75.3" x2="1342.5" y2="75.3" stroke="#666" stroke-width="1"/>
<text x="1345" y="77.9" font-size="9.3" fill="#555">162.5</text>
<line x1="1340" y1="269.2" x2="1342.5" y2="269.2" stroke="#666" stroke-width="1"/>
<text x="1345" y="271.8" font-size="9.3" fill="#555">155</text>
<line x1="1340" y1="333.3" x2="1342.5" y2="333.3" stroke="#666" stroke-width="1"/>
<text x="1345" y="335.9" font-size="9.3" fill="#555">152.5</text>
<line x1="1340" y1="397.3" x2="1342.5" y2="397.3" stroke="#666" stroke-width="1"/>
<text x="1345" y="399.9" font-size="9.3" fill="#555">150</text>
<line x1="1340" y1="462.4" x2="1342.5" y2="462.4" stroke="#666" stroke-width="1"/>
<text x="1345" y="465.0" font-size="9.3" fill="#555">147.5</text>
<line x1="1340" y1="526.2" x2="1342.5" y2="526.2" stroke="#666" stroke-width="1"/>
<text x="1345" y="528.8" font-size="9.3" fill="#555">145</text>
<path d="M1340.0,139.7 L1348.0,132.5 H1388.5 a2,2 0 0 1 2,2 V144.9 a2,2 0 0 1 -2,2 H1348.0 Z" fill="#7b0b3c"/>
<text x="1387.7" y="143.1" font-size="9.5" font-weight="bold" fill="#fff" text-anchor="end" letter-spacing="0.1">159.984</text>
<path d="M1340.0,146.2 L1348.0,139.0 H1388.5 a2,2 0 0 1 2,2 V151.4 a2,2 0 0 1 -2,2 H1348.0 Z" fill="#6a5fb0"/>
<text x="1387.7" y="149.6" font-size="9.5" font-weight="bold" fill="#fff" text-anchor="end" letter-spacing="0.1">159.747</text>
<path d="M1340.0,208.4 L1348.0,201.2 H1388.5 a2,2 0 0 1 2,2 V213.6 a2,2 0 0 1 -2,2 H1348.0 Z" fill="#0a7cc1"/>
<text x="1387.7" y="211.8" font-size="9.5" font-weight="bold" fill="#fff" text-anchor="end" letter-spacing="0.1">157.339</text>
<path d="M1340.0,276.7 L1348.0,269.5 H1388.5 a2,2 0 0 1 2,2 V281.9 a2,2 0 0 1 -2,2 H1348.0 Z" fill="#7b0b3c"/>
<text x="1387.7" y="280.1" font-size="9.5" font-weight="bold" fill="#fff" text-anchor="end" letter-spacing="0.1">154.683</text>
<line x1="0" y1="576.5" x2="1339.4" y2="576.5" stroke="#777" stroke-width="1.2"/>
<line x1="0" y1="597.4" x2="1339" y2="597.4" stroke="#d0d0d0" stroke-width="1"/>
<line x1="0" y1="628.5" x2="1339" y2="628.5" stroke="#d0d0d0" stroke-width="1"/>
<path d="M934,597.4 L941.1,591.6 947.6,591.4 951.8,597.4 Z" fill="#bbb"/>
<polyline points="0.0,610.2 6.5,615.0 13.1,613.1 20.9,618.3 27.4,619.3 34.6,613.7 41.8,612.8 48.3,613.7 54.8,613.1 61.4,616.7 68.5,620.7 75.7,620.7 82.2,616.3 88.8,619.0 96.0,620.7 103.1,616.3 116.2,616.7 123.4,623.5 130.7,620.3 138.3,620.3 145.8,616.8 153.4,618.8 160.9,622.8 171.0,623.3 181.0,622.8 193.6,617.8 201.1,618.8 206.2,621.3 213.7,619.8 221.3,620.3 231.3,618.8 241.4,621.3 251.4,621.8 261.5,616.8 271.5,610.2 281.6,609.2 291.7,610.2 301.7,610.2 309.3,606.7 316.8,608.7 326.9,609.2 336.9,607.2 347.0,603.2 352.0,602.2 392.2,602.2 399.8,605.2 412.3,603.7 419.9,606.7 432.5,608.7 440.0,612.2 447.6,605.7 457.6,605.2 467.7,608.7 477.7,605.2 497.8,605.2 507.9,601.7 518.0,605.2 543.1,604.7 553.1,606.2 563.2,604.2 583.3,604.2 595.9,604.2 603.4,607.7 616.0,607.7 623.6,606.2 633.6,609.2 643.9,617.3 653.7,621.8 666.3,623.3 673.8,618.8 681.4,618.3 691.4,615.3 700.0,611.3 705.0,610.8 713.9,603.8 719.9,605.8 727.3,602.8 737.3,604.3 754.7,603.8 764.6,605.8 779.5,605.8 789.5,604.3 804.4,604.8 811.9,606.8 819.3,605.3 836.7,604.3 844.2,600.3 864.0,598.8 871.5,595.8 879.0,594.9 886.4,598.8 898.8,597.8 918.7,597.3 933.6,594.9 941.1,591.4 947.6,591.4 953.5,603.8 961.0,600.8 968.4,608.3 975.9,613.7 983.4,615.2 993.3,614.2 1008.2,608.8 1018.2,608.8 1028.1,607.8 1043.0,606.3 1050.5,612.8 1057.9,609.8 1077.8,608.8 1087.7,607.8 1097.7,605.8 1117.6,606.8 1127.5,604.8 1132.5,607.8 1140.0,608.3 1142.4,606.3 1152.4,606.3 1159.8,611.3 1167.3,616.7 1174.8,613.2 1182.2,613.7 1189.7,609.3 1207.1,608.8 1214.5,610.3 1226.9,607.8 1246.8,605.8 1256.8,605.8 1266.7,601.8 1276.7,600.3 1284.0,600.3" fill="none" stroke="#333" stroke-width="1.15" stroke-linejoin="round"/>
<rect x="5" y="591" width="67" height="14" fill="#fff"/>
<text x="9.8" y="600.8" font-size="9.2" fill="#222"><tspan font-weight="bold">RSI</tspan> 14</text>
<g transform="translate(48.3,598.3)"><circle r="3.2" fill="none" stroke="#999" stroke-width="2.2"/><g stroke="#999" stroke-width="2.2" stroke-linecap="butt"><line x1="0" y1="-5.3" x2="0" y2="5.3"/><line x1="-5.3" y1="0" x2="5.3" y2="0"/><line x1="-3.75" y1="-3.75" x2="3.75" y2="3.75"/><line x1="-3.75" y1="3.75" x2="3.75" y2="-3.75"/></g><circle r="1.5" fill="#fff"/></g><g transform="translate(64.0,598.3)"><path d="M-3.6,-3.6L3.6,3.6M-3.6,3.6L3.6,-3.6" stroke="#999" stroke-width="2.2"/></g>
<line x1="1340" y1="628.5" x2="1342.5" y2="628.5" stroke="#666"/>
<text x="1344.6" y="631.6" font-size="9.3" fill="#555">20</text>
<path d="M1340,600.5 L1347,593.2 H1378 a2,2 0 0 1 2,2 V605.9 a2,2 0 0 1 -2,2 H1347 Z" fill="#000"/>
<text x="1377" y="604" font-size="9.5" font-weight="bold" fill="#fff" text-anchor="end" letter-spacing="0.1">72.17</text>
<line x1="0" y1="648.2" x2="1339.4" y2="648.2" stroke="#777" stroke-width="1.2"/>
<line x1="88.8" y1="648" x2="88.8" y2="652" stroke="#777"/>
<text x="88.8" y="662.8" font-size="11.4" fill="#555" text-anchor="middle">Dec</text>
<line x1="250.0" y1="648" x2="250.0" y2="652" stroke="#777"/>
<text x="250.0" y="662.8" font-size="11.4" fill="#555" text-anchor="middle">2024</text>
<line x1="439.5" y1="648" x2="439.5" y2="652" stroke="#777"/>
<text x="439.5" y="662.8" font-size="11.4" fill="#555" text-anchor="middle">Feb</text>
<line x1="611.3" y1="648" x2="611.3" y2="652" stroke="#777"/>
<text x="611.3" y="662.8" font-size="11.4" fill="#555" text-anchor="middle">Mar</text>
<line x1="790.0" y1="648" x2="790.0" y2="652" stroke="#777"/>
<text x="790.0" y="662.8" font-size="11.4" fill="#555" text-anchor="middle">Apr</text>
<line x1="968.6" y1="648" x2="968.6" y2="652" stroke="#777"/>
<text x="968.6" y="662.8" font-size="11.4" fill="#555" text-anchor="middle">May</text>
<line x1="1153.5" y1="648" x2="1153.5" y2="652" stroke="#777"/>
<text x="1153.5" y="662.8" font-size="11.4" fill="#555" text-anchor="middle">Jun</text>
<line x1="1332.0" y1="648" x2="1332.0" y2="652" stroke="#777"/>
<text x="1332.0" y="662.8" font-size="11.4" fill="#555" text-anchor="middle">Jul</text>
<text x="-10.3" y="662.8" font-size="11.4" fill="#555">Nov</text>
<g transform="translate(61.9,688.5)"><rect x="-7.6" y="-4.6" width="15.4" height="10" rx="1.8" fill="#fff" stroke="#a8a8a8" stroke-width="1.25"/><line x1="-7" y1="-4" x2="7.2" y2="-4" stroke="#a8a8a8" stroke-width="1.4"/><rect x="-4.4" y="-6.3" width="1.1" height="2.2" fill="#a8a8a8"/><rect x="3.1" y="-6.3" width="1.1" height="2.2" fill="#a8a8a8"/></g>
<text x="61.9" y="692.3" font-size="9" fill="#b4b4b4" text-anchor="middle">2</text>
<g transform="translate(103.1,688.5)"><rect x="-7.6" y="-4.6" width="15.4" height="10" rx="1.8" fill="#fff" stroke="#a8a8a8" stroke-width="1.25"/><line x1="-7" y1="-4" x2="7.2" y2="-4" stroke="#a8a8a8" stroke-width="1.4"/><rect x="-4.4" y="-6.3" width="1.1" height="2.2" fill="#a8a8a8"/><rect x="3.1" y="-6.3" width="1.1" height="2.2" fill="#a8a8a8"/></g>
<text x="103.1" y="692.3" font-size="9" fill="#b4b4b4" text-anchor="middle">3</text>
<g transform="translate(144.3,688.5)"><rect x="-7.6" y="-4.6" width="15.4" height="10" rx="1.8" fill="#fff" stroke="#a8a8a8" stroke-width="1.25"/><line x1="-7" y1="-4" x2="7.2" y2="-4" stroke="#a8a8a8" stroke-width="1.4"/><rect x="-4.4" y="-6.3" width="1.1" height="2.2" fill="#a8a8a8"/><rect x="3.1" y="-6.3" width="1.1" height="2.2" fill="#a8a8a8"/></g>
<text x="144.3" y="692.3" font-size="9" fill="#b4b4b4" text-anchor="middle">8</text>
<g transform="translate(185.6,688.5)"><rect x="-7.6" y="-4.6" width="15.4" height="10" rx="1.8" fill="#fff" stroke="#a8a8a8" stroke-width="1.25"/><line x1="-7" y1="-4" x2="7.2" y2="-4" stroke="#a8a8a8" stroke-width="1.4"/><rect x="-4.4" y="-6.3" width="1.1" height="2.2" fill="#a8a8a8"/><rect x="3.1" y="-6.3" width="1.1" height="2.2" fill="#a8a8a8"/></g>
<text x="185.6" y="692.3" font-size="9" fill="#b4b4b4" text-anchor="middle">8</text>
<g transform="translate(254.5,688.5)"><rect x="-7.6" y="-4.6" width="15.4" height="10" rx="1.8" fill="#fff" stroke="#a8a8a8" stroke-width="1.25"/><line x1="-7" y1="-4" x2="7.2" y2="-4" stroke="#a8a8a8" stroke-width="1.4"/><rect x="-4.4" y="-6.3" width="1.1" height="2.2" fill="#a8a8a8"/><rect x="3.1" y="-6.3" width="1.1" height="2.2" fill="#a8a8a8"/></g>
<text x="254.5" y="692.3" font-size="9" fill="#b4b4b4" text-anchor="middle">3</text>
<g transform="translate(295.7,688.5)"><rect x="-7.6" y="-4.6" width="15.4" height="10" rx="1.8" fill="#fff" stroke="#a8a8a8" stroke-width="1.25"/><line x1="-7" y1="-4" x2="7.2" y2="-4" stroke="#a8a8a8" stroke-width="1.4"/><rect x="-4.4" y="-6.3" width="1.1" height="2.2" fill="#a8a8a8"/><rect x="3.1" y="-6.3" width="1.1" height="2.2" fill="#a8a8a8"/></g>
<text x="295.7" y="692.3" font-size="9" fill="#b4b4b4" text-anchor="middle">5</text>
<g transform="translate(336.4,688.5)"><rect x="-7.6" y="-4.6" width="15.4" height="10" rx="1.8" fill="#fff" stroke="#a8a8a8" stroke-width="1.25"/><line x1="-7" y1="-4" x2="7.2" y2="-4" stroke="#a8a8a8" stroke-width="1.4"/><rect x="-4.4" y="-6.3" width="1.1" height="2.2" fill="#a8a8a8"/><rect x="3.1" y="-6.3" width="1.1" height="2.2" fill="#a8a8a8"/></g>
<text x="336.4" y="692.3" font-size="9" fill="#b4b4b4" text-anchor="middle">6</text>
<g transform="translate(418.9,688.5)"><rect x="-7.6" y="-4.6" width="15.4" height="10" rx="1.8" fill="#fff" stroke="#a8a8a8" stroke-width="1.25"/><line x1="-7" y1="-4" x2="7.2" y2="-4" stroke="#a8a8a8" stroke-width="1.4"/><rect x="-4.4" y="-6.3" width="1.1" height="2.2" fill="#a8a8a8"/><rect x="3.1" y="-6.3" width="1.1" height="2.2" fill="#a8a8a8"/></g>
<text x="418.9" y="692.3" font-size="9" fill="#b4b4b4" text-anchor="middle">6</text>
<g transform="translate(500.9,688.5)"><rect x="-7.6" y="-4.6" width="15.4" height="10" rx="1.8" fill="#fff" stroke="#a8a8a8" stroke-width="1.25"/><line x1="-7" y1="-4" x2="7.2" y2="-4" stroke="#a8a8a8" stroke-width="1.4"/><rect x="-4.4" y="-6.3" width="1.1" height="2.2" fill="#a8a8a8"/><rect x="3.1" y="-6.3" width="1.1" height="2.2" fill="#a8a8a8"/></g>
<text x="500.9" y="692.3" font-size="9" fill="#b4b4b4" text-anchor="middle">12</text>
<g transform="translate(583.3,688.5)"><rect x="-7.6" y="-4.6" width="15.4" height="10" rx="1.8" fill="#fff" stroke="#a8a8a8" stroke-width="1.25"/><line x1="-7" y1="-4" x2="7.2" y2="-4" stroke="#a8a8a8" stroke-width="1.4"/><rect x="-4.4" y="-6.3" width="1.1" height="2.2" fill="#a8a8a8"/><rect x="3.1" y="-6.3" width="1.1" height="2.2" fill="#a8a8a8"/></g>
<text x="583.3" y="692.3" font-size="9" fill="#b4b4b4" text-anchor="middle">2</text>
<g transform="translate(624.6,688.5)"><rect x="-7.6" y="-4.6" width="15.4" height="10" rx="1.8" fill="#fff" stroke="#a8a8a8" stroke-width="1.25"/><line x1="-7" y1="-4" x2="7.2" y2="-4" stroke="#a8a8a8" stroke-width="1.4"/><rect x="-4.4" y="-6.3" width="1.1" height="2.2" fill="#a8a8a8"/><rect x="3.1" y="-6.3" width="1.1" height="2.2" fill="#a8a8a8"/></g>
<text x="624.6" y="692.3" font-size="9" fill="#b4b4b4" text-anchor="middle">3</text>
<g transform="translate(666.3,688.5)"><rect x="-7.6" y="-4.6" width="15.4" height="10" rx="1.8" fill="#fff" stroke="#a8a8a8" stroke-width="1.25"/><line x1="-7" y1="-4" x2="7.2" y2="-4" stroke="#a8a8a8" stroke-width="1.4"/><rect x="-4.4" y="-6.3" width="1.1" height="2.2" fill="#a8a8a8"/><rect x="3.1" y="-6.3" width="1.1" height="2.2" fill="#a8a8a8"/></g>
<text x="666.3" y="692.3" font-size="9" fill="#b4b4b4" text-anchor="middle">6</text>
<g transform="translate(707.5,688.5)"><rect x="-7.6" y="-4.6" width="15.4" height="10" rx="1.8" fill="#fff" stroke="#a8a8a8" stroke-width="1.25"/><line x1="-7" y1="-4" x2="7.2" y2="-4" stroke="#a8a8a8" stroke-width="1.4"/><rect x="-4.4" y="-6.3" width="1.1" height="2.2" fill="#a8a8a8"/><rect x="3.1" y="-6.3" width="1.1" height="2.2" fill="#a8a8a8"/></g>
<text x="707.5" y="692.3" font-size="9" fill="#b4b4b4" text-anchor="middle">7</text>
<g transform="translate(748.2,688.5)"><rect x="-7.6" y="-4.6" width="15.4" height="10" rx="1.8" fill="#fff" stroke="#a8a8a8" stroke-width="1.25"/><line x1="-7" y1="-4" x2="7.2" y2="-4" stroke="#a8a8a8" stroke-width="1.4"/><rect x="-4.4" y="-6.3" width="1.1" height="2.2" fill="#a8a8a8"/><rect x="3.1" y="-6.3" width="1.1" height="2.2" fill="#a8a8a8"/></g>
<text x="748.2" y="692.3" font-size="9" fill="#b4b4b4" text-anchor="middle">3</text>
<g transform="translate(790.0,688.5)"><rect x="-7.6" y="-4.6" width="15.4" height="10" rx="1.8" fill="#fff" stroke="#a8a8a8" stroke-width="1.25"/><line x1="-7" y1="-4" x2="7.2" y2="-4" stroke="#a8a8a8" stroke-width="1.4"/><rect x="-4.4" y="-6.3" width="1.1" height="2.2" fill="#a8a8a8"/><rect x="3.1" y="-6.3" width="1.1" height="2.2" fill="#a8a8a8"/></g>
<text x="790.0" y="692.3" font-size="9" fill="#b4b4b4" text-anchor="middle">4</text>
<g transform="translate(831.2,688.5)"><rect x="-7.6" y="-4.6" width="15.4" height="10" rx="1.8" fill="#fff" stroke="#a8a8a8" stroke-width="1.25"/><line x1="-7" y1="-4" x2="7.2" y2="-4" stroke="#a8a8a8" stroke-width="1.4"/><rect x="-4.4" y="-6.3" width="1.1" height="2.2" fill="#a8a8a8"/><rect x="3.1" y="-6.3" width="1.1" height="2.2" fill="#a8a8a8"/></g>
<text x="831.2" y="692.3" font-size="9" fill="#b4b4b4" text-anchor="middle">4</text>
<g transform="translate(872.0,688.5)"><rect x="-7.6" y="-4.6" width="15.4" height="10" rx="1.8" fill="#fff" stroke="#a8a8a8" stroke-width="1.25"/><line x1="-7" y1="-4" x2="7.2" y2="-4" stroke="#a8a8a8" stroke-width="1.4"/><rect x="-4.4" y="-6.3" width="1.1" height="2.2" fill="#a8a8a8"/><rect x="3.1" y="-6.3" width="1.1" height="2.2" fill="#a8a8a8"/></g>
<text x="872.0" y="692.3" font-size="9" fill="#b4b4b4" text-anchor="middle">6</text>
<g transform="translate(954.5,688.5)"><rect x="-7.6" y="-4.6" width="15.4" height="10" rx="1.8" fill="#fff" stroke="#a8a8a8" stroke-width="1.25"/><line x1="-7" y1="-4" x2="7.2" y2="-4" stroke="#a8a8a8" stroke-width="1.4"/><rect x="-4.4" y="-6.3" width="1.1" height="2.2" fill="#a8a8a8"/><rect x="3.1" y="-6.3" width="1.1" height="2.2" fill="#a8a8a8"/></g>
<text x="954.5" y="692.3" font-size="9" fill="#b4b4b4" text-anchor="middle">6</text>
<g transform="translate(995.8,688.5)"><rect x="-7.6" y="-4.6" width="15.4" height="10" rx="1.8" fill="#fff" stroke="#a8a8a8" stroke-width="1.25"/><line x1="-7" y1="-4" x2="7.2" y2="-4" stroke="#a8a8a8" stroke-width="1.4"/><rect x="-4.4" y="-6.3" width="1.1" height="2.2" fill="#a8a8a8"/><rect x="3.1" y="-6.3" width="1.1" height="2.2" fill="#a8a8a8"/></g>
<text x="995.8" y="692.3" font-size="9" fill="#b4b4b4" text-anchor="middle">4</text>
<g transform="translate(1036.5,688.5)"><rect x="-7.6" y="-4.6" width="15.4" height="10" rx="1.8" fill="#fff" stroke="#a8a8a8" stroke-width="1.25"/><line x1="-7" y1="-4" x2="7.2" y2="-4" stroke="#a8a8a8" stroke-width="1.4"/><rect x="-4.4" y="-6.3" width="1.1" height="2.2" fill="#a8a8a8"/><rect x="3.1" y="-6.3" width="1.1" height="2.2" fill="#a8a8a8"/></g>
<text x="1036.5" y="692.3" font-size="9" fill="#b4b4b4" text-anchor="middle">5</text>
<g transform="translate(1078.3,688.5)"><rect x="-7.6" y="-4.6" width="15.4" height="10" rx="1.8" fill="#fff" stroke="#a8a8a8" stroke-width="1.25"/><line x1="-7" y1="-4" x2="7.2" y2="-4" stroke="#a8a8a8" stroke-width="1.4"/><rect x="-4.4" y="-6.3" width="1.1" height="2.2" fill="#a8a8a8"/><rect x="3.1" y="-6.3" width="1.1" height="2.2" fill="#a8a8a8"/></g>
<text x="1078.3" y="692.3" font-size="9" fill="#b4b4b4" text-anchor="middle">4</text>
<g transform="translate(1160.3,688.5)"><rect x="-7.6" y="-4.6" width="15.4" height="10" rx="1.8" fill="#fff" stroke="#a8a8a8" stroke-width="1.25"/><line x1="-7" y1="-4" x2="7.2" y2="-4" stroke="#a8a8a8" stroke-width="1.4"/><rect x="-4.4" y="-6.3" width="1.1" height="2.2" fill="#a8a8a8"/><rect x="3.1" y="-6.3" width="1.1" height="2.2" fill="#a8a8a8"/></g>
<text x="1160.3" y="692.3" font-size="9" fill="#b4b4b4" text-anchor="middle">4</text>
<g transform="translate(1202.0,688.5)"><rect x="-7.6" y="-4.6" width="15.4" height="10" rx="1.8" fill="#fff" stroke="#a8a8a8" stroke-width="1.25"/><line x1="-7" y1="-4" x2="7.2" y2="-4" stroke="#a8a8a8" stroke-width="1.4"/><rect x="-4.4" y="-6.3" width="1.1" height="2.2" fill="#a8a8a8"/><rect x="3.1" y="-6.3" width="1.1" height="2.2" fill="#a8a8a8"/></g>
<text x="1202.0" y="692.3" font-size="9" fill="#b4b4b4" text-anchor="middle">7</text>
<g transform="translate(1242.8,688.5)"><rect x="-7.6" y="-4.6" width="15.4" height="10" rx="1.8" fill="#fff" stroke="#a8a8a8" stroke-width="1.25"/><line x1="-7" y1="-4" x2="7.2" y2="-4" stroke="#a8a8a8" stroke-width="1.4"/><rect x="-4.4" y="-6.3" width="1.1" height="2.2" fill="#a8a8a8"/><rect x="3.1" y="-6.3" width="1.1" height="2.2" fill="#a8a8a8"/></g>
<text x="1242.8" y="692.3" font-size="9" fill="#b4b4b4" text-anchor="middle">7</text>
<g transform="translate(1284.1,688.5)"><rect x="-7.6" y="-4.6" width="15.4" height="10" rx="1.8" fill="#fff" stroke="#a8a8a8" stroke-width="1.25"/><line x1="-7" y1="-4" x2="7.2" y2="-4" stroke="#a8a8a8" stroke-width="1.4"/><rect x="-4.4" y="-6.3" width="1.1" height="2.2" fill="#a8a8a8"/><rect x="3.1" y="-6.3" width="1.1" height="2.2" fill="#a8a8a8"/></g>
<text x="1284.1" y="692.3" font-size="9" fill="#b4b4b4" text-anchor="middle">3</text>
<g opacity="0.47"><rect x="451.0" y="680.30" width="18.6" height="1.07" fill="#e8303a"/><rect x="451.0" y="682.44" width="18.6" height="1.07" fill="#e8303a"/><rect x="451.0" y="684.58" width="18.6" height="1.07" fill="#e8303a"/><rect x="451.0" y="686.72" width="18.6" height="1.07" fill="#e8303a"/><rect x="451.0" y="688.86" width="18.6" height="1.07" fill="#e8303a"/><rect x="451.0" y="691.00" width="18.6" height="1.07" fill="#e8303a"/><rect x="451.0" y="693.14" width="18.6" height="1.07" fill="#e8303a"/><rect x="451.0" y="680.3" width="8.2" height="7.5" fill="#203a80"/></g>
<g opacity="0.47"><rect x="1109.6" y="680.30" width="18.6" height="1.07" fill="#e8303a"/><rect x="1109.6" y="682.44" width="18.6" height="1.07" fill="#e8303a"/><rect x="1109.6" y="684.58" width="18.6" height="1.07" fill="#e8303a"/><rect x="1109.6" y="686.72" width="18.6" height="1.07" fill="#e8303a"/><rect x="1109.6" y="688.86" width="18.6" height="1.07" fill="#e8303a"/><rect x="1109.6" y="691.00" width="18.6" height="1.07" fill="#e8303a"/><rect x="1109.6" y="693.14" width="18.6" height="1.07" fill="#e8303a"/><rect x="1109.6" y="680.3" width="8.2" height="7.5" fill="#203a80"/></g>
<rect x="0" y="704" width="1392" height="38" fill="#d9d9d9"/>
<rect x="1276.5" y="704" width="107.3" height="38" fill="#fff"/>
<line x1="56.2" y1="704" x2="56.2" y2="742" stroke="#c4c4c4" stroke-width="1"/>
<line x1="56.2" y1="742" x2="56.2" y2="746.5" stroke="#777"/>
<text x="56.2" y="756.6" font-size="11.5" fill="#555" text-anchor="middle">2017</text>
<line x1="233.5" y1="704" x2="233.5" y2="742" stroke="#c4c4c4" stroke-width="1"/>
<line x1="233.5" y1="742" x2="233.5" y2="746.5" stroke="#777"/>
<text x="233.5" y="756.6" font-size="11.5" fill="#555" text-anchor="middle">2018</text>
<line x1="412.2" y1="704" x2="412.2" y2="742" stroke="#c4c4c4" stroke-width="1"/>
<line x1="412.2" y1="742" x2="412.2" y2="746.5" stroke="#777"/>
<text x="412.2" y="756.6" font-size="11.5" fill="#555" text-anchor="middle">2019</text>
<line x1="589.2" y1="704" x2="589.2" y2="742" stroke="#c4c4c4" stroke-width="1"/>
<line x1="589.2" y1="742" x2="589.2" y2="746.5" stroke="#777"/>
<text x="589.2" y="756.6" font-size="11.5" fill="#555" text-anchor="middle">2020</text>
<line x1="766.6" y1="704" x2="766.6" y2="742" stroke="#c4c4c4" stroke-width="1"/>
<line x1="766.6" y1="742" x2="766.6" y2="746.5" stroke="#777"/>
<text x="766.6" y="756.6" font-size="11.5" fill="#555" text-anchor="middle">2021</text>
<line x1="945.4" y1="704" x2="945.4" y2="742" stroke="#c4c4c4" stroke-width="1"/>
<line x1="945.4" y1="742" x2="945.4" y2="746.5" stroke="#777"/>
<text x="945.4" y="756.6" font-size="11.5" fill="#555" text-anchor="middle">2022</text>
<line x1="1123.2" y1="704" x2="1123.2" y2="742" stroke="#c4c4c4" stroke-width="1"/>
<line x1="1123.2" y1="742" x2="1123.2" y2="746.5" stroke="#777"/>
<text x="1123.2" y="756.6" font-size="11.5" fill="#555" text-anchor="middle">2023</text>
<line x1="1299.3" y1="704" x2="1299.3" y2="742" stroke="#e6e6e6" stroke-width="1"/>
<line x1="1299.3" y1="742" x2="1299.3" y2="746.5" stroke="#777"/>
<text x="1299.3" y="756.6" font-size="11.5" fill="#555" text-anchor="middle">2024</text>
<text x="-1.5" y="756.6" font-size="11.5" fill="#555">16</text>
<rect x="0.0" y="731.2" width="2.2" height="2.6" fill="#c6262f"/><rect x="3.1" y="731.4" width="5.5" height="2.6" fill="#0f7f8c"/><rect x="9.5" y="731.2" width="3.5" height="2.6" fill="#0f7f8c"/><rect x="13.0" y="731.3" width="1.6" height="2.6" fill="#0f7f8c"/><rect x="14.6" y="731.4" width="1.2" height="2.6" fill="#c6262f"/><rect x="15.8" y="731.1" width="1.2" height="2.6" fill="#0f7f8c"/><rect x="17.0" y="730.8" width="1.2" height="2.6" fill="#0f7f8c"/><rect x="18.2" y="730.8" width="3.5" height="2.6" fill="#0f7f8c"/><rect x="21.7" y="730.8" width="1.6" height="2.6" fill="#0f7f8c"/><rect x="24.2" y="730.2" width="1.2" height="2.6" fill="#0f7f8c"/><rect x="26.3" y="730.4" width="1.6" height="2.6" fill="#0f7f8c"/><rect x="27.9" y="729.9" width="2.8" height="2.6" fill="#c6262f"/><rect x="31.6" y="728.9" width="5.5" height="2.6" fill="#0f7f8c"/><rect x="38.0" y="727.8" width="2.2" height="2.6" fill="#0f7f8c"/><rect x="40.2" y="726.9" width="2.2" height="2.6" fill="#c6262f"/><rect x="42.4" y="726.8" width="1.6" height="2.6" fill="#c6262f"/><rect x="44.0" y="726.6" width="1.2" height="2.6" fill="#c6262f"/><rect x="45.2" y="726.5" width="5.5" height="2.6" fill="#c6262f"/><rect x="50.7" y="727.1" width="3.5" height="2.6" fill="#0f7f8c"/><rect x="55.1" y="727.0" width="1.2" height="2.6" fill="#c6262f"/><rect x="56.3" y="726.9" width="1.2" height="2.6" fill="#c6262f"/><rect x="57.5" y="727.5" width="4.5" height="2.6" fill="#c6262f"/><rect x="62.0" y="728.9" width="4.5" height="2.6" fill="#0f7f8c"/><rect x="66.5" y="728.2" width="3.5" height="2.6" fill="#0f7f8c"/><rect x="70.0" y="728.6" width="1.6" height="2.6" fill="#c6262f"/><rect x="71.6" y="728.6" width="2.8" height="2.6" fill="#0f7f8c"/><rect x="74.4" y="729.0" width="1.6" height="2.6" fill="#c6262f"/><rect x="76.9" y="728.9" width="2.8" height="2.6" fill="#c6262f"/><rect x="79.7" y="728.6" width="1.6" height="2.6" fill="#0f7f8c"/><rect x="82.2" y="729.1" width="1.6" height="2.6" fill="#0f7f8c"/><rect x="84.7" y="728.9" width="2.2" height="2.6" fill="#0f7f8c"/><rect x="86.9" y="728.7" width="3.5" height="2.6" fill="#0f7f8c"/><rect x="90.4" y="729.2" width="3.5" height="2.6" fill="#c6262f"/><rect x="93.9" y="729.4" width="5.5" height="2.6" fill="#c6262f"/><rect x="99.4" y="729.1" width="2.8" height="2.6" fill="#0f7f8c"/><rect x="102.2" y="728.8" width="2.8" height="2.6" fill="#0f7f8c"/><rect x="105.9" y="729.2" width="1.6" height="2.6" fill="#0f7f8c"/><rect x="108.4" y="728.7" width="3.5" height="2.6" fill="#0f7f8c"/><rect x="111.9" y="728.8" width="1.2" height="2.6" fill="#0f7f8c"/><rect x="113.1" y="728.8" width="4.5" height="2.6" fill="#0f7f8c"/><rect x="117.6" y="728.9" width="1.2" height="2.6" fill="#0f7f8c"/><rect x="118.8" y="728.5" width="2.8" height="2.6" fill="#0f7f8c"/><rect x="122.5" y="728.8" width="2.2" height="2.6" fill="#c6262f"/><rect x="124.7" y="729.1" width="3.5" height="2.6" fill="#0f7f8c"/><rect x="128.2" y="729.0" width="1.6" height="2.6" fill="#c6262f"/><rect x="129.8" y="729.0" width="2.2" height="2.6" fill="#c6262f"/><rect x="132.0" y="729.1" width="2.2" height="2.6" fill="#0f7f8c"/><rect x="134.2" y="729.0" width="1.6" height="2.6" fill="#0f7f8c"/><rect x="135.8" y="729.0" width="1.6" height="2.6" fill="#c6262f"/><rect x="137.4" y="729.1" width="1.6" height="2.6" fill="#c6262f"/><rect x="139.0" y="728.8" width="1.6" height="2.6" fill="#0f7f8c"/><rect x="140.6" y="728.8" width="1.2" height="2.6" fill="#c6262f"/><rect x="142.7" y="728.9" width="3.5" height="2.6" fill="#c6262f"/><rect x="146.2" y="728.8" width="2.2" height="2.6" fill="#c6262f"/><rect x="149.3" y="728.9" width="1.6" height="2.6" fill="#0f7f8c"/><rect x="150.9" y="729.0" width="3.5" height="2.6" fill="#c6262f"/><rect x="154.4" y="729.4" width="5.5" height="2.6" fill="#c6262f"/><rect x="160.8" y="729.4" width="2.8" height="2.6" fill="#c6262f"/><rect x="163.6" y="729.3" width="1.6" height="2.6" fill="#0f7f8c"/><rect x="166.1" y="729.2" width="4.5" height="2.6" fill="#0f7f8c"/><rect x="170.6" y="729.7" width="4.5" height="2.6" fill="#0f7f8c"/><rect x="176.0" y="729.6" width="3.5" height="2.6" fill="#c6262f"/><rect x="180.4" y="729.4" width="5.5" height="2.6" fill="#c6262f"/><rect x="185.9" y="729.2" width="1.6" height="2.6" fill="#0f7f8c"/><rect x="188.4" y="729.6" width="4.5" height="2.6" fill="#c6262f"/><rect x="192.9" y="729.4" width="2.8" height="2.6" fill="#c6262f"/><rect x="195.7" y="729.5" width="1.2" height="2.6" fill="#0f7f8c"/><rect x="197.8" y="729.7" width="3.5" height="2.6" fill="#0f7f8c"/><rect x="201.3" y="729.6" width="1.2" height="2.6" fill="#c6262f"/><rect x="202.5" y="729.7" width="3.5" height="2.6" fill="#c6262f"/><rect x="206.0" y="729.4" width="3.5" height="2.6" fill="#0f7f8c"/><rect x="209.5" y="729.4" width="5.5" height="2.6" fill="#0f7f8c"/><rect x="215.9" y="729.4" width="5.5" height="2.6" fill="#0f7f8c"/><rect x="221.4" y="729.6" width="1.2" height="2.6" fill="#0f7f8c"/><rect x="222.6" y="729.9" width="3.5" height="2.6" fill="#0f7f8c"/><rect x="226.1" y="729.5" width="1.2" height="2.6" fill="#0f7f8c"/><rect x="227.3" y="729.3" width="3.5" height="2.6" fill="#0f7f8c"/><rect x="230.8" y="729.8" width="1.2" height="2.6" fill="#0f7f8c"/><rect x="232.0" y="729.5" width="3.5" height="2.6" fill="#0f7f8c"/><rect x="235.5" y="730.1" width="5.5" height="2.6" fill="#0f7f8c"/><rect x="241.0" y="730.0" width="2.2" height="2.6" fill="#c6262f"/><rect x="244.1" y="729.4" width="2.8" height="2.6" fill="#0f7f8c"/><rect x="246.9" y="729.6" width="1.2" height="2.6" fill="#c6262f"/><rect x="249.0" y="730.0" width="2.2" height="2.6" fill="#c6262f"/><rect x="252.1" y="729.6" width="4.5" height="2.6" fill="#c6262f"/><rect x="257.5" y="729.5" width="1.6" height="2.6" fill="#c6262f"/><rect x="259.1" y="729.4" width="2.8" height="2.6" fill="#c6262f"/><rect x="261.9" y="729.6" width="1.6" height="2.6" fill="#0f7f8c"/><rect x="263.5" y="729.6" width="2.2" height="2.6" fill="#0f7f8c"/><rect x="266.6" y="729.7" width="2.2" height="2.6" fill="#0f7f8c"/><rect x="268.8" y="729.7" width="1.2" height="2.6" fill="#0f7f8c"/><rect x="270.9" y="730.0" width="1.2" height="2.6" fill="#0f7f8c"/><rect x="273.0" y="729.5" width="1.2" height="2.6" fill="#0f7f8c"/><rect x="274.2" y="729.4" width="1.6" height="2.6" fill="#0f7f8c"/><rect x="275.8" y="729.5" width="4.5" height="2.6" fill="#c6262f"/><rect x="281.2" y="729.9" width="3.5" height="2.6" fill="#0f7f8c"/><rect x="285.6" y="729.4" width="1.2" height="2.6" fill="#c6262f"/><rect x="286.8" y="729.8" width="2.2" height="2.6" fill="#c6262f"/><rect x="289.0" y="729.5" width="1.2" height="2.6" fill="#c6262f"/><rect x="291.1" y="729.6" width="1.2" height="2.6" fill="#0f7f8c"/><rect x="292.3" y="729.3" width="2.2" height="2.6" fill="#c6262f"/><rect x="294.5" y="729.5" width="1.2" height="2.6" fill="#c6262f"/><rect x="296.6" y="729.7" width="2.2" height="2.6" fill="#c6262f"/><rect x="299.7" y="729.4" width="2.8" height="2.6" fill="#0f7f8c"/><rect x="302.5" y="729.3" width="1.2" height="2.6" fill="#c6262f"/><rect x="304.6" y="729.4" width="3.5" height="2.6" fill="#0f7f8c"/><rect x="308.1" y="729.9" width="2.8" height="2.6" fill="#0f7f8c"/><rect x="310.9" y="729.9" width="2.8" height="2.6" fill="#0f7f8c"/><rect x="313.7" y="729.9" width="2.2" height="2.6" fill="#c6262f"/><rect x="315.9" y="729.7" width="5.5" height="2.6" fill="#c6262f"/><rect x="322.3" y="729.7" width="2.2" height="2.6" fill="#c6262f"/><rect x="325.4" y="729.2" width="4.5" height="2.6" fill="#c6262f"/><rect x="330.8" y="729.3" width="1.2" height="2.6" fill="#c6262f"/><rect x="332.0" y="729.5" width="2.2" height="2.6" fill="#c6262f"/><rect x="335.1" y="729.3" width="1.6" height="2.6" fill="#0f7f8c"/><rect x="337.6" y="729.4" width="2.2" height="2.6" fill="#c6262f"/><rect x="340.7" y="729.0" width="2.2" height="2.6" fill="#0f7f8c"/><rect x="342.9" y="729.3" width="1.2" height="2.6" fill="#0f7f8c"/><rect x="345.0" y="728.9" width="3.5" height="2.6" fill="#c6262f"/><rect x="348.5" y="728.8" width="1.6" height="2.6" fill="#0f7f8c"/><rect x="351.0" y="728.8" width="2.2" height="2.6" fill="#c6262f"/><rect x="353.2" y="729.3" width="5.5" height="2.6" fill="#c6262f"/><rect x="358.7" y="729.0" width="3.5" height="2.6" fill="#0f7f8c"/><rect x="362.2" y="729.2" width="1.6" height="2.6" fill="#0f7f8c"/><rect x="364.7" y="729.3" width="5.5" height="2.6" fill="#c6262f"/><rect x="370.2" y="729.0" width="4.5" height="2.6" fill="#c6262f"/><rect x="374.7" y="729.2" width="5.5" height="2.6" fill="#0f7f8c"/><rect x="380.2" y="729.1" width="5.5" height="2.6" fill="#c6262f"/><rect x="385.7" y="728.5" width="4.5" height="2.6" fill="#c6262f"/><rect x="391.1" y="728.5" width="4.5" height="2.6" fill="#0f7f8c"/><rect x="395.6" y="728.3" width="3.5" height="2.6" fill="#0f7f8c"/><rect x="399.1" y="728.3" width="1.6" height="2.6" fill="#0f7f8c"/><rect x="400.7" y="729.0" width="4.5" height="2.6" fill="#c6262f"/><rect x="406.1" y="728.9" width="3.5" height="2.6" fill="#0f7f8c"/><rect x="410.5" y="728.5" width="1.2" height="2.6" fill="#c6262f"/><rect x="411.7" y="729.1" width="1.6" height="2.6" fill="#c6262f"/><rect x="413.3" y="729.0" width="2.8" height="2.6" fill="#0f7f8c"/><rect x="417.0" y="728.8" width="1.2" height="2.6" fill="#c6262f"/><rect x="419.1" y="728.8" width="1.6" height="2.6" fill="#0f7f8c"/><rect x="420.7" y="728.3" width="3.5" height="2.6" fill="#0f7f8c"/><rect x="425.1" y="728.4" width="2.2" height="2.6" fill="#c6262f"/><rect x="428.2" y="728.7" width="2.8" height="2.6" fill="#0f7f8c"/><rect x="431.0" y="729.1" width="2.8" height="2.6" fill="#c6262f"/><rect x="433.8" y="729.0" width="2.2" height="2.6" fill="#c6262f"/><rect x="436.9" y="728.7" width="2.8" height="2.6" fill="#0f7f8c"/><rect x="439.7" y="729.0" width="2.2" height="2.6" fill="#0f7f8c"/><rect x="441.9" y="728.4" width="1.2" height="2.6" fill="#c6262f"/><rect x="443.1" y="729.0" width="2.2" height="2.6" fill="#0f7f8c"/><rect x="445.3" y="728.5" width="1.2" height="2.6" fill="#c6262f"/><rect x="446.5" y="728.4" width="2.8" height="2.6" fill="#0f7f8c"/><rect x="449.3" y="728.5" width="4.5" height="2.6" fill="#0f7f8c"/><rect x="454.7" y="728.4" width="2.2" height="2.6" fill="#0f7f8c"/><rect x="456.9" y="729.0" width="2.2" height="2.6" fill="#c6262f"/><rect x="460.0" y="729.0" width="1.6" height="2.6" fill="#c6262f"/><rect x="462.5" y="728.6" width="2.2" height="2.6" fill="#0f7f8c"/><rect x="464.7" y="728.6" width="1.2" height="2.6" fill="#0f7f8c"/><rect x="466.8" y="728.3" width="1.2" height="2.6" fill="#0f7f8c"/><rect x="468.0" y="728.5" width="4.5" height="2.6" fill="#c6262f"/><rect x="473.4" y="728.9" width="3.5" height="2.6" fill="#0f7f8c"/><rect x="476.9" y="728.9" width="2.8" height="2.6" fill="#c6262f"/><rect x="479.7" y="728.9" width="3.5" height="2.6" fill="#0f7f8c"/><rect x="484.1" y="729.0" width="4.5" height="2.6" fill="#0f7f8c"/><rect x="489.5" y="728.8" width="5.5" height="2.6" fill="#0f7f8c"/><rect x="495.0" y="729.3" width="1.6" height="2.6" fill="#0f7f8c"/><rect x="497.5" y="729.8" width="2.2" height="2.6" fill="#c6262f"/><rect x="500.6" y="729.6" width="4.5" height="2.6" fill="#0f7f8c"/><rect x="505.1" y="729.5" width="1.2" height="2.6" fill="#0f7f8c"/><rect x="507.2" y="729.7" width="5.5" height="2.6" fill="#0f7f8c"/><rect x="512.7" y="729.8" width="5.5" height="2.6" fill="#0f7f8c"/><rect x="519.1" y="730.3" width="1.2" height="2.6" fill="#0f7f8c"/><rect x="520.3" y="730.4" width="2.2" height="2.6" fill="#0f7f8c"/><rect x="522.5" y="730.4" width="4.5" height="2.6" fill="#c6262f"/><rect x="527.0" y="730.5" width="1.6" height="2.6" fill="#0f7f8c"/><rect x="529.5" y="730.6" width="2.2" height="2.6" fill="#0f7f8c"/><rect x="531.7" y="731.1" width="3.5" height="2.6" fill="#c6262f"/><rect x="536.1" y="730.9" width="2.2" height="2.6" fill="#c6262f"/><rect x="538.3" y="731.4" width="2.8" height="2.6" fill="#c6262f"/><rect x="541.1" y="731.0" width="1.2" height="2.6" fill="#0f7f8c"/><rect x="542.3" y="731.1" width="5.5" height="2.6" fill="#0f7f8c"/><rect x="548.7" y="731.2" width="2.8" height="2.6" fill="#c6262f"/><rect x="551.5" y="730.6" width="2.8" height="2.6" fill="#c6262f"/><rect x="555.2" y="731.1" width="1.6" height="2.6" fill="#0f7f8c"/><rect x="557.7" y="730.7" width="5.5" height="2.6" fill="#c6262f"/><rect x="563.2" y="730.7" width="2.8" height="2.6" fill="#0f7f8c"/><rect x="566.9" y="730.8" width="1.6" height="2.6" fill="#0f7f8c"/><rect x="568.5" y="730.5" width="2.2" height="2.6" fill="#c6262f"/><rect x="570.7" y="730.0" width="2.8" height="2.6" fill="#c6262f"/><rect x="574.4" y="730.0" width="3.5" height="2.6" fill="#c6262f"/><rect x="578.8" y="729.7" width="5.5" height="2.6" fill="#c6262f"/><rect x="584.3" y="729.9" width="2.8" height="2.6" fill="#0f7f8c"/><rect x="587.1" y="729.8" width="1.6" height="2.6" fill="#0f7f8c"/><rect x="589.6" y="729.8" width="2.8" height="2.6" fill="#c6262f"/><rect x="593.3" y="729.9" width="2.8" height="2.6" fill="#c6262f"/><rect x="597.0" y="730.1" width="1.6" height="2.6" fill="#c6262f"/><rect x="599.5" y="729.9" width="1.2" height="2.6" fill="#c6262f"/><rect x="600.7" y="729.9" width="2.8" height="2.6" fill="#0f7f8c"/><rect x="603.5" y="729.7" width="3.5" height="2.6" fill="#0f7f8c"/><rect x="607.9" y="729.4" width="5.5" height="2.6" fill="#c6262f"/><rect x="614.3" y="729.3" width="5.5" height="2.6" fill="#c6262f"/><rect x="619.8" y="729.4" width="3.5" height="2.6" fill="#0f7f8c"/><rect x="623.3" y="729.7" width="4.5" height="2.6" fill="#0f7f8c"/><rect x="627.8" y="730.0" width="1.2" height="2.6" fill="#0f7f8c"/><rect x="629.9" y="729.3" width="1.2" height="2.6" fill="#c6262f"/><rect x="631.1" y="729.8" width="4.5" height="2.6" fill="#c6262f"/><rect x="635.6" y="729.3" width="1.6" height="2.6" fill="#0f7f8c"/><rect x="637.2" y="729.4" width="4.5" height="2.6" fill="#0f7f8c"/><rect x="641.7" y="729.4" width="5.5" height="2.6" fill="#0f7f8c"/><rect x="648.1" y="729.2" width="1.2" height="2.6" fill="#0f7f8c"/><rect x="649.3" y="729.7" width="1.2" height="2.6" fill="#0f7f8c"/><rect x="650.5" y="729.7" width="5.5" height="2.6" fill="#c6262f"/><rect x="656.0" y="729.2" width="1.2" height="2.6" fill="#c6262f"/><rect x="657.2" y="729.4" width="2.8" height="2.6" fill="#0f7f8c"/><rect x="660.0" y="729.3" width="1.2" height="2.6" fill="#c6262f"/><rect x="661.2" y="729.1" width="2.8" height="2.6" fill="#0f7f8c"/><rect x="664.9" y="729.6" width="1.2" height="2.6" fill="#0f7f8c"/><rect x="666.1" y="729.3" width="2.2" height="2.6" fill="#0f7f8c"/><rect x="668.3" y="729.6" width="1.2" height="2.6" fill="#0f7f8c"/><rect x="669.5" y="729.6" width="2.2" height="2.6" fill="#0f7f8c"/><rect x="671.7" y="729.8" width="5.5" height="2.6" fill="#c6262f"/><rect x="678.1" y="729.6" width="1.6" height="2.6" fill="#0f7f8c"/><rect x="679.7" y="729.2" width="5.5" height="2.6" fill="#0f7f8c"/><rect x="685.2" y="729.4" width="2.8" height="2.6" fill="#0f7f8c"/><rect x="688.9" y="729.5" width="4.5" height="2.6" fill="#0f7f8c"/><rect x="694.3" y="729.2" width="1.6" height="2.6" fill="#0f7f8c"/><rect x="695.9" y="729.3" width="5.5" height="2.6" fill="#c6262f"/><rect x="701.4" y="729.0" width="1.6" height="2.6" fill="#0f7f8c"/><rect x="703.9" y="729.1" width="3.5" height="2.6" fill="#0f7f8c"/><rect x="707.4" y="729.2" width="1.2" height="2.6" fill="#c6262f"/><rect x="709.5" y="729.8" width="1.2" height="2.6" fill="#0f7f8c"/><rect x="710.7" y="729.4" width="1.6" height="2.6" fill="#0f7f8c"/><rect x="712.3" y="729.5" width="4.5" height="2.6" fill="#0f7f8c"/><rect x="716.8" y="729.8" width="5.5" height="2.6" fill="#0f7f8c"/><rect x="723.2" y="729.4" width="3.5" height="2.6" fill="#0f7f8c"/><rect x="727.6" y="729.4" width="2.8" height="2.6" fill="#0f7f8c"/><rect x="731.3" y="729.3" width="3.5" height="2.6" fill="#0f7f8c"/><rect x="735.7" y="729.5" width="1.6" height="2.6" fill="#0f7f8c"/><rect x="737.3" y="729.4" width="4.5" height="2.6" fill="#0f7f8c"/><rect x="742.7" y="729.8" width="5.5" height="2.6" fill="#0f7f8c"/><rect x="748.2" y="729.5" width="2.2" height="2.6" fill="#0f7f8c"/><rect x="750.4" y="730.3" width="5.5" height="2.6" fill="#c6262f"/><rect x="755.9" y="730.1" width="5.5" height="2.6" fill="#0f7f8c"/><rect x="761.4" y="729.7" width="4.5" height="2.6" fill="#c6262f"/><rect x="765.9" y="729.7" width="3.5" height="2.6" fill="#0f7f8c"/><rect x="769.4" y="729.9" width="1.2" height="2.6" fill="#0f7f8c"/><rect x="770.6" y="730.4" width="4.5" height="2.6" fill="#c6262f"/><rect x="775.1" y="730.0" width="2.8" height="2.6" fill="#c6262f"/><rect x="777.9" y="730.2" width="1.6" height="2.6" fill="#0f7f8c"/><rect x="779.5" y="730.2" width="2.8" height="2.6" fill="#0f7f8c"/><rect x="782.3" y="730.4" width="4.5" height="2.6" fill="#0f7f8c"/><rect x="786.8" y="730.0" width="2.2" height="2.6" fill="#0f7f8c"/><rect x="789.0" y="730.2" width="1.2" height="2.6" fill="#0f7f8c"/><rect x="790.2" y="730.2" width="2.8" height="2.6" fill="#0f7f8c"/><rect x="793.0" y="730.1" width="4.5" height="2.6" fill="#0f7f8c"/><rect x="798.4" y="729.5" width="1.2" height="2.6" fill="#0f7f8c"/><rect x="800.5" y="730.0" width="1.2" height="2.6" fill="#0f7f8c"/><rect x="801.7" y="729.2" width="1.6" height="2.6" fill="#0f7f8c"/><rect x="804.2" y="729.1" width="5.5" height="2.6" fill="#c6262f"/><rect x="809.7" y="729.0" width="2.2" height="2.6" fill="#c6262f"/><rect x="811.9" y="729.5" width="1.6" height="2.6" fill="#0f7f8c"/><rect x="814.4" y="729.3" width="2.8" height="2.6" fill="#c6262f"/><rect x="817.2" y="729.3" width="2.2" height="2.6" fill="#0f7f8c"/><rect x="819.4" y="729.0" width="2.8" height="2.6" fill="#0f7f8c"/><rect x="822.2" y="728.9" width="1.2" height="2.6" fill="#c6262f"/><rect x="823.4" y="729.0" width="1.6" height="2.6" fill="#c6262f"/><rect x="825.0" y="728.9" width="3.5" height="2.6" fill="#c6262f"/><rect x="829.4" y="728.9" width="1.6" height="2.6" fill="#0f7f8c"/><rect x="831.9" y="728.2" width="2.2" height="2.6" fill="#0f7f8c"/><rect x="834.1" y="728.4" width="1.6" height="2.6" fill="#0f7f8c"/><rect x="835.7" y="728.2" width="1.2" height="2.6" fill="#c6262f"/><rect x="836.9" y="728.3" width="2.8" height="2.6" fill="#0f7f8c"/><rect x="839.7" y="727.9" width="2.8" height="2.6" fill="#0f7f8c"/><rect x="842.5" y="728.0" width="2.2" height="2.6" fill="#0f7f8c"/><rect x="845.6" y="727.8" width="3.5" height="2.6" fill="#c6262f"/><rect x="849.1" y="727.8" width="3.5" height="2.6" fill="#c6262f"/><rect x="853.5" y="727.5" width="2.8" height="2.6" fill="#0f7f8c"/><rect x="856.3" y="727.8" width="2.2" height="2.6" fill="#0f7f8c"/><rect x="858.5" y="727.5" width="1.2" height="2.6" fill="#0f7f8c"/><rect x="859.7" y="727.8" width="2.2" height="2.6" fill="#c6262f"/><rect x="862.8" y="727.9" width="3.5" height="2.6" fill="#c6262f"/><rect x="866.3" y="728.2" width="1.2" height="2.6" fill="#c6262f"/><rect x="867.5" y="727.5" width="5.5" height="2.6" fill="#0f7f8c"/><rect x="873.0" y="728.1" width="2.2" height="2.6" fill="#c6262f"/><rect x="876.1" y="727.6" width="5.5" height="2.6" fill="#c6262f"/><rect x="881.6" y="727.5" width="3.5" height="2.6" fill="#c6262f"/><rect x="885.1" y="727.8" width="2.2" height="2.6" fill="#c6262f"/><rect x="888.2" y="727.6" width="2.8" height="2.6" fill="#0f7f8c"/><rect x="891.0" y="727.6" width="2.2" height="2.6" fill="#0f7f8c"/><rect x="893.2" y="727.9" width="4.5" height="2.6" fill="#c6262f"/><rect x="897.7" y="727.6" width="1.6" height="2.6" fill="#c6262f"/><rect x="899.3" y="727.7" width="1.2" height="2.6" fill="#c6262f"/><rect x="900.5" y="727.9" width="3.5" height="2.6" fill="#0f7f8c"/><rect x="904.0" y="727.9" width="2.2" height="2.6" fill="#c6262f"/><rect x="906.2" y="727.7" width="5.5" height="2.6" fill="#0f7f8c"/><rect x="911.7" y="728.0" width="1.6" height="2.6" fill="#0f7f8c"/><rect x="913.3" y="728.1" width="1.6" height="2.6" fill="#c6262f"/><rect x="915.8" y="727.8" width="3.5" height="2.6" fill="#0f7f8c"/><rect x="919.3" y="728.0" width="3.5" height="2.6" fill="#c6262f"/><rect x="922.8" y="727.4" width="4.5" height="2.6" fill="#0f7f8c"/><rect x="927.3" y="727.6" width="2.8" height="2.6" fill="#0f7f8c"/><rect x="931.0" y="727.8" width="2.8" height="2.6" fill="#0f7f8c"/><rect x="934.7" y="727.5" width="1.2" height="2.6" fill="#0f7f8c"/><rect x="935.9" y="727.8" width="3.5" height="2.6" fill="#0f7f8c"/><rect x="939.4" y="728.0" width="1.6" height="2.6" fill="#0f7f8c"/><rect x="941.9" y="727.5" width="1.2" height="2.6" fill="#c6262f"/><rect x="944.0" y="727.4" width="1.2" height="2.6" fill="#0f7f8c"/><rect x="945.2" y="727.5" width="2.2" height="2.6" fill="#0f7f8c"/><rect x="948.3" y="728.0" width="4.5" height="2.6" fill="#c6262f"/><rect x="952.8" y="728.0" width="3.5" height="2.6" fill="#0f7f8c"/><rect x="956.3" y="727.3" width="1.6" height="2.6" fill="#0f7f8c"/><rect x="958.8" y="727.5" width="1.2" height="2.6" fill="#0f7f8c"/><rect x="960.9" y="727.8" width="5.5" height="2.6" fill="#0f7f8c"/><rect x="966.4" y="727.5" width="1.6" height="2.6" fill="#0f7f8c"/><rect x="968.0" y="727.6" width="3.5" height="2.6" fill="#c6262f"/><rect x="971.5" y="727.1" width="3.5" height="2.6" fill="#0f7f8c"/><rect x="975.9" y="726.2" width="4.5" height="2.6" fill="#c6262f"/><rect x="981.3" y="725.0" width="5.5" height="2.6" fill="#0f7f8c"/><rect x="987.7" y="723.3" width="4.5" height="2.6" fill="#0f7f8c"/><rect x="993.1" y="722.9" width="1.6" height="2.6" fill="#c6262f"/><rect x="994.7" y="722.7" width="4.5" height="2.6" fill="#c6262f"/><rect x="1000.1" y="722.4" width="4.5" height="2.6" fill="#0f7f8c"/><rect x="1004.6" y="722.0" width="3.5" height="2.6" fill="#c6262f"/><rect x="1008.1" y="721.9" width="1.6" height="2.6" fill="#0f7f8c"/><rect x="1010.6" y="721.4" width="1.6" height="2.6" fill="#c6262f"/><rect x="1013.1" y="721.2" width="2.2" height="2.6" fill="#0f7f8c"/><rect x="1015.3" y="721.1" width="2.8" height="2.6" fill="#c6262f"/><rect x="1018.1" y="720.5" width="4.5" height="2.6" fill="#c6262f"/><rect x="1022.6" y="720.5" width="3.5" height="2.6" fill="#c6262f"/><rect x="1026.1" y="720.3" width="4.5" height="2.6" fill="#0f7f8c"/><rect x="1030.6" y="719.4" width="2.8" height="2.6" fill="#c6262f"/><rect x="1033.4" y="719.3" width="1.6" height="2.6" fill="#0f7f8c"/><rect x="1035.0" y="719.2" width="1.6" height="2.6" fill="#0f7f8c"/><rect x="1037.5" y="719.5" width="1.2" height="2.6" fill="#0f7f8c"/><rect x="1039.6" y="719.2" width="1.2" height="2.6" fill="#c6262f"/><rect x="1040.8" y="720.0" width="2.2" height="2.6" fill="#0f7f8c"/><rect x="1043.0" y="720.1" width="4.5" height="2.6" fill="#0f7f8c"/><rect x="1047.5" y="719.8" width="2.8" height="2.6" fill="#0f7f8c"/><rect x="1051.2" y="720.6" width="1.2" height="2.6" fill="#c6262f"/><rect x="1052.4" y="720.4" width="1.2" height="2.6" fill="#c6262f"/><rect x="1054.5" y="720.6" width="1.2" height="2.6" fill="#0f7f8c"/><rect x="1055.7" y="719.9" width="2.2" height="2.6" fill="#0f7f8c"/><rect x="1058.8" y="719.0" width="2.2" height="2.6" fill="#c6262f"/><rect x="1061.0" y="719.0" width="2.2" height="2.6" fill="#c6262f"/><rect x="1063.2" y="718.1" width="2.2" height="2.6" fill="#c6262f"/><rect x="1065.4" y="717.6" width="2.8" height="2.6" fill="#0f7f8c"/><rect x="1068.2" y="717.4" width="1.2" height="2.6" fill="#0f7f8c"/><rect x="1069.4" y="717.4" width="1.2" height="2.6" fill="#0f7f8c"/><rect x="1070.6" y="717.6" width="3.5" height="2.6" fill="#0f7f8c"/><rect x="1074.1" y="716.9" width="1.2" height="2.6" fill="#0f7f8c"/><rect x="1075.3" y="716.9" width="5.5" height="2.6" fill="#0f7f8c"/><rect x="1080.8" y="716.6" width="5.5" height="2.6" fill="#0f7f8c"/><rect x="1087.2" y="717.2" width="5.5" height="2.6" fill="#0f7f8c"/><rect x="1092.7" y="717.7" width="1.2" height="2.6" fill="#c6262f"/><rect x="1093.9" y="717.8" width="4.5" height="2.6" fill="#0f7f8c"/><rect x="1098.4" y="718.7" width="1.2" height="2.6" fill="#0f7f8c"/><rect x="1099.6" y="719.2" width="1.2" height="2.6" fill="#0f7f8c"/><rect x="1100.8" y="719.8" width="2.2" height="2.6" fill="#0f7f8c"/><rect x="1103.0" y="719.9" width="2.8" height="2.6" fill="#c6262f"/><rect x="1105.8" y="720.3" width="1.6" height="2.6" fill="#0f7f8c"/><rect x="1107.4" y="720.6" width="4.5" height="2.6" fill="#0f7f8c"/><rect x="1111.9" y="721.3" width="5.5" height="2.6" fill="#c6262f"/><rect x="1117.4" y="721.7" width="1.6" height="2.6" fill="#0f7f8c"/><rect x="1119.9" y="721.9" width="1.6" height="2.6" fill="#0f7f8c"/><rect x="1121.5" y="721.8" width="1.6" height="2.6" fill="#0f7f8c"/><rect x="1123.1" y="721.7" width="5.5" height="2.6" fill="#c6262f"/><rect x="1129.5" y="722.1" width="1.6" height="2.6" fill="#c6262f"/><rect x="1131.1" y="721.8" width="1.6" height="2.6" fill="#0f7f8c"/><rect x="1132.7" y="721.7" width="4.5" height="2.6" fill="#c6262f"/><rect x="1137.2" y="722.3" width="1.6" height="2.6" fill="#0f7f8c"/><rect x="1138.8" y="721.7" width="4.5" height="2.6" fill="#0f7f8c"/><rect x="1144.2" y="722.1" width="1.2" height="2.6" fill="#0f7f8c"/><rect x="1145.4" y="722.0" width="1.2" height="2.6" fill="#0f7f8c"/><rect x="1146.6" y="721.5" width="3.5" height="2.6" fill="#c6262f"/><rect x="1151.0" y="721.5" width="2.2" height="2.6" fill="#c6262f"/><rect x="1153.2" y="721.6" width="5.5" height="2.6" fill="#0f7f8c"/><rect x="1158.7" y="721.6" width="2.8" height="2.6" fill="#c6262f"/><rect x="1161.5" y="721.3" width="5.5" height="2.6" fill="#c6262f"/><rect x="1167.9" y="721.0" width="1.6" height="2.6" fill="#c6262f"/><rect x="1169.5" y="721.2" width="4.5" height="2.6" fill="#c6262f"/><rect x="1174.9" y="720.8" width="2.8" height="2.6" fill="#c6262f"/><rect x="1178.6" y="720.1" width="2.8" height="2.6" fill="#0f7f8c"/><rect x="1181.4" y="720.6" width="3.5" height="2.6" fill="#c6262f"/><rect x="1185.8" y="719.3" width="4.5" height="2.6" fill="#0f7f8c"/><rect x="1190.3" y="719.4" width="1.2" height="2.6" fill="#0f7f8c"/><rect x="1192.4" y="718.8" width="5.5" height="2.6" fill="#c6262f"/><rect x="1197.9" y="718.9" width="5.5" height="2.6" fill="#0f7f8c"/><rect x="1203.4" y="719.1" width="3.5" height="2.6" fill="#0f7f8c"/><rect x="1206.9" y="719.2" width="2.2" height="2.6" fill="#0f7f8c"/><rect x="1210.0" y="718.7" width="4.5" height="2.6" fill="#0f7f8c"/><rect x="1214.5" y="718.4" width="4.5" height="2.6" fill="#c6262f"/><rect x="1219.9" y="717.9" width="2.2" height="2.6" fill="#0f7f8c"/><rect x="1223.0" y="718.1" width="2.8" height="2.6" fill="#c6262f"/><rect x="1225.8" y="718.0" width="1.2" height="2.6" fill="#0f7f8c"/><rect x="1227.0" y="718.1" width="3.5" height="2.6" fill="#c6262f"/><rect x="1230.5" y="717.3" width="2.8" height="2.6" fill="#0f7f8c"/><rect x="1233.3" y="717.2" width="5.5" height="2.6" fill="#c6262f"/><rect x="1238.8" y="717.6" width="4.5" height="2.6" fill="#0f7f8c"/><rect x="1243.3" y="717.3" width="4.5" height="2.6" fill="#c6262f"/><rect x="1247.8" y="717.1" width="2.2" height="2.6" fill="#c6262f"/><rect x="1250.0" y="717.2" width="2.8" height="2.6" fill="#0f7f8c"/><rect x="1253.7" y="717.2" width="2.8" height="2.6" fill="#c6262f"/><rect x="1256.5" y="717.0" width="2.8" height="2.6" fill="#0f7f8c"/><rect x="1260.2" y="716.6" width="1.6" height="2.6" fill="#c6262f"/><rect x="1261.8" y="716.8" width="3.5" height="2.6" fill="#c6262f"/><rect x="1265.3" y="716.3" width="2.2" height="2.6" fill="#c6262f"/><rect x="1267.5" y="716.3" width="2.2" height="2.6" fill="#c6262f"/><rect x="1269.7" y="716.6" width="4.5" height="2.6" fill="#c6262f"/><rect x="1275.1" y="716.2" width="1.2" height="2.6" fill="#c6262f"/><rect x="1277.2" y="716.4" width="1.6" height="2.6" fill="#c6262f"/><rect x="1278.8" y="717.4" width="5.5" height="2.6" fill="#0f7f8c"/><rect x="1284.3" y="717.6" width="1.6" height="2.6" fill="#c6262f"/><rect x="1285.9" y="717.9" width="1.2" height="2.6" fill="#c6262f"/><rect x="1287.1" y="718.0" width="5.5" height="2.6" fill="#0f7f8c"/><rect x="1293.5" y="718.5" width="1.2" height="2.6" fill="#c6262f"/><rect x="1294.7" y="718.7" width="3.5" height="2.6" fill="#0f7f8c"/><rect x="1298.2" y="718.5" width="2.8" height="2.6" fill="#0f7f8c"/><rect x="1301.0" y="718.3" width="1.6" height="2.6" fill="#c6262f"/><rect x="1303.5" y="717.7" width="3.5" height="2.6" fill="#c6262f"/><rect x="1307.0" y="717.8" width="2.8" height="2.6" fill="#c6262f"/><rect x="1310.7" y="717.2" width="2.8" height="2.6" fill="#0f7f8c"/><rect x="1313.5" y="717.0" width="1.2" height="2.6" fill="#0f7f8c"/><rect x="1314.7" y="717.1" width="1.2" height="2.6" fill="#c6262f"/><rect x="1315.9" y="716.6" width="2.2" height="2.6" fill="#c6262f"/><rect x="1318.1" y="716.4" width="5.5" height="2.6" fill="#c6262f"/><rect x="1323.6" y="716.3" width="4.5" height="2.6" fill="#0f7f8c"/><rect x="1328.1" y="716.5" width="2.2" height="2.6" fill="#0f7f8c"/><rect x="1330.3" y="716.3" width="1.6" height="2.6" fill="#0f7f8c"/><rect x="1332.8" y="716.0" width="1.2" height="2.6" fill="#c6262f"/><rect x="1334.0" y="716.4" width="2.8" height="2.6" fill="#0f7f8c"/><rect x="1336.8" y="715.9" width="2.2" height="2.6" fill="#c6262f"/><rect x="1339.0" y="715.7" width="2.2" height="2.6" fill="#0f7f8c"/><rect x="1342.1" y="715.5" width="4.5" height="2.6" fill="#0f7f8c"/><rect x="1346.6" y="714.7" width="3.5" height="2.6" fill="#c6262f"/><rect x="1351.0" y="714.0" width="2.2" height="2.6" fill="#0f7f8c"/><rect x="1353.2" y="714.3" width="2.8" height="2.6" fill="#c6262f"/><rect x="1356.0" y="714.1" width="3.5" height="2.6" fill="#c6262f"/><rect x="1359.5" y="714.0" width="4.5" height="2.6" fill="#c6262f"/><rect x="1364.9" y="713.7" width="1.2" height="2.6" fill="#c6262f"/><rect x="1366.1" y="714.0" width="1.2" height="2.6" fill="#c6262f"/><rect x="1367.3" y="713.8" width="1.2" height="2.6" fill="#c6262f"/><rect x="1368.5" y="713.5" width="5.5" height="2.6" fill="#0f7f8c"/><rect x="1374.0" y="713.6" width="5.5" height="2.6" fill="#0f7f8c"/><rect x="1379.5" y="713.8" width="2.8" height="2.6" fill="#0f7f8c"/>
<line x1="0" y1="742.3" x2="1392" y2="742.3" stroke="#888" stroke-width="1.5"/>
<line x1="1276.5" y1="704" x2="1276.5" y2="742" stroke="#999" stroke-width="1.4"/><rect x="1274.8" y="712" width="4.2" height="22.2" rx="2.1" fill="#999"/>
<line x1="1383.8" y1="704" x2="1383.8" y2="742" stroke="#999" stroke-width="1.4"/><rect x="1381.8" y="712" width="4.2" height="22.2" rx="2.1" fill="#999"/>
<rect x="1.9" y="706.6" width="12.9" height="13" fill="#fff"/><path d="M4.7,709.4L12,716.8M4.7,716.8L12,709.4" stroke="#888" stroke-width="2"/>
<line x1="0.7" y1="742" x2="0.7" y2="746.5" stroke="#777" stroke-width="1"/>
</svg>
</body></html>
